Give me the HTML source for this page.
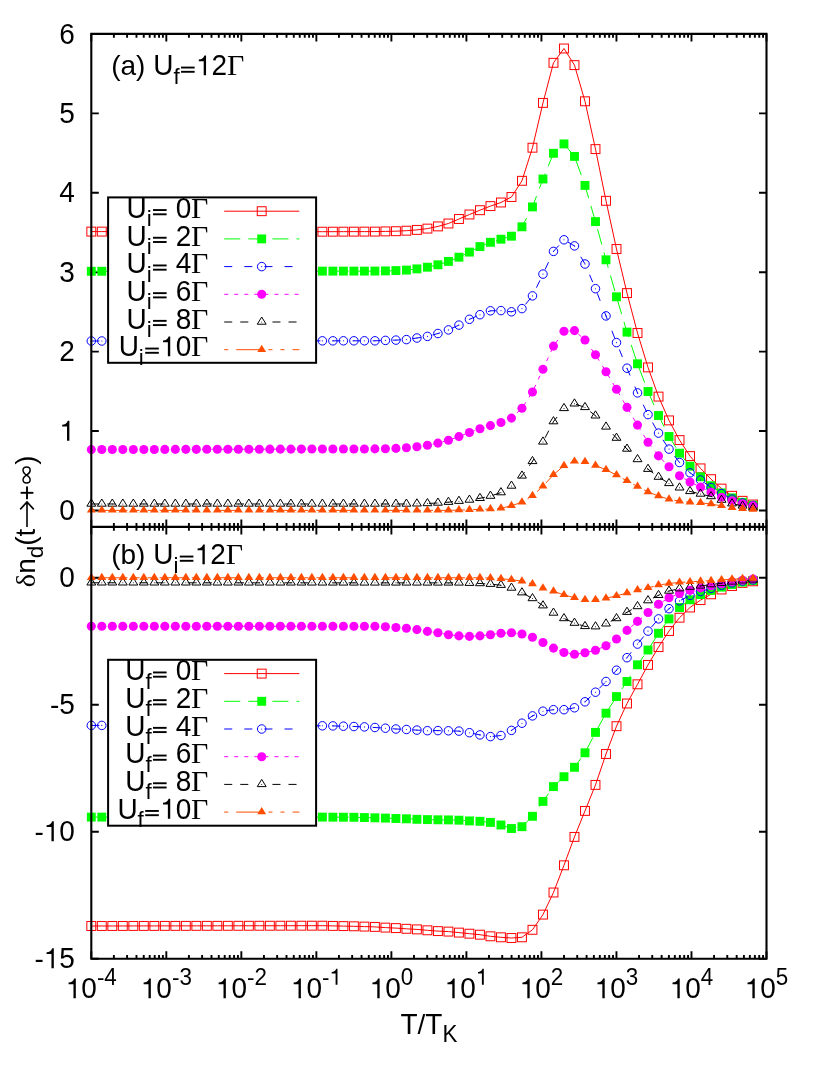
<!DOCTYPE html>
<html><head><meta charset="utf-8"><title>chart</title>
<style>html,body{margin:0;padding:0;background:#fff}svg{display:block;position:absolute;left:0;top:0;will-change:transform}</style>
</head><body>
<svg width="830" height="1075" viewBox="0 0 830 1075">
<defs><clipPath id="ca"><rect x="85.3" y="33.9" width="687.2" height="493"/></clipPath><clipPath id="cb"><rect x="85.3" y="526.9" width="687.2" height="431.8"/></clipPath></defs>
<rect width="830" height="1075" fill="#fff"/>
<path d="M91.3 33.9v7.5M91.3 519.4v15M91.3 958.7v-7.5M113.88 33.9v3.8M113.88 523.1v7.6M113.88 958.7v-3.8M127.09 33.9v3.8M127.09 523.1v7.6M127.09 958.7v-3.8M136.47 33.9v3.8M136.47 523.1v7.6M136.47 958.7v-3.8M143.74 33.9v3.8M143.74 523.1v7.6M143.74 958.7v-3.8M149.68 33.9v3.8M149.68 523.1v7.6M149.68 958.7v-3.8M154.7 33.9v3.8M154.7 523.1v7.6M154.7 958.7v-3.8M159.05 33.9v3.8M159.05 523.1v7.6M159.05 958.7v-3.8M162.89 33.9v3.8M162.89 523.1v7.6M162.89 958.7v-3.8M166.32 33.9v7.5M166.32 519.4v15M166.32 958.7v-7.5M188.91 33.9v3.8M188.91 523.1v7.6M188.91 958.7v-3.8M202.12 33.9v3.8M202.12 523.1v7.6M202.12 958.7v-3.8M211.49 33.9v3.8M211.49 523.1v7.6M211.49 958.7v-3.8M218.76 33.9v3.8M218.76 523.1v7.6M218.76 958.7v-3.8M224.7 33.9v3.8M224.7 523.1v7.6M224.7 958.7v-3.8M229.72 33.9v3.8M229.72 523.1v7.6M229.72 958.7v-3.8M234.07 33.9v3.8M234.07 523.1v7.6M234.07 958.7v-3.8M237.91 33.9v3.8M237.91 523.1v7.6M237.91 958.7v-3.8M241.34 33.9v7.5M241.34 519.4v15M241.34 958.7v-7.5M263.93 33.9v3.8M263.93 523.1v7.6M263.93 958.7v-3.8M277.14 33.9v3.8M277.14 523.1v7.6M277.14 958.7v-3.8M286.51 33.9v3.8M286.51 523.1v7.6M286.51 958.7v-3.8M293.78 33.9v3.8M293.78 523.1v7.6M293.78 958.7v-3.8M299.72 33.9v3.8M299.72 523.1v7.6M299.72 958.7v-3.8M304.75 33.9v3.8M304.75 523.1v7.6M304.75 958.7v-3.8M309.1 33.9v3.8M309.1 523.1v7.6M309.1 958.7v-3.8M312.93 33.9v3.8M312.93 523.1v7.6M312.93 958.7v-3.8M316.37 33.9v7.5M316.37 519.4v15M316.37 958.7v-7.5M338.95 33.9v3.8M338.95 523.1v7.6M338.95 958.7v-3.8M352.16 33.9v3.8M352.16 523.1v7.6M352.16 958.7v-3.8M361.53 33.9v3.8M361.53 523.1v7.6M361.53 958.7v-3.8M368.8 33.9v3.8M368.8 523.1v7.6M368.8 958.7v-3.8M374.75 33.9v3.8M374.75 523.1v7.6M374.75 958.7v-3.8M379.77 33.9v3.8M379.77 523.1v7.6M379.77 958.7v-3.8M384.12 33.9v3.8M384.12 523.1v7.6M384.12 958.7v-3.8M387.96 33.9v3.8M387.96 523.1v7.6M387.96 958.7v-3.8M391.39 33.9v7.5M391.39 519.4v15M391.39 958.7v-7.5M413.97 33.9v3.8M413.97 523.1v7.6M413.97 958.7v-3.8M427.18 33.9v3.8M427.18 523.1v7.6M427.18 958.7v-3.8M436.56 33.9v3.8M436.56 523.1v7.6M436.56 958.7v-3.8M443.83 33.9v3.8M443.83 523.1v7.6M443.83 958.7v-3.8M449.77 33.9v3.8M449.77 523.1v7.6M449.77 958.7v-3.8M454.79 33.9v3.8M454.79 523.1v7.6M454.79 958.7v-3.8M459.14 33.9v3.8M459.14 523.1v7.6M459.14 958.7v-3.8M462.98 33.9v3.8M462.98 523.1v7.6M462.98 958.7v-3.8M466.41 33.9v7.5M466.41 519.4v15M466.41 958.7v-7.5M489 33.9v3.8M489 523.1v7.6M489 958.7v-3.8M502.21 33.9v3.8M502.21 523.1v7.6M502.21 958.7v-3.8M511.58 33.9v3.8M511.58 523.1v7.6M511.58 958.7v-3.8M518.85 33.9v3.8M518.85 523.1v7.6M518.85 958.7v-3.8M524.79 33.9v3.8M524.79 523.1v7.6M524.79 958.7v-3.8M529.81 33.9v3.8M529.81 523.1v7.6M529.81 958.7v-3.8M534.16 33.9v3.8M534.16 523.1v7.6M534.16 958.7v-3.8M538 33.9v3.8M538 523.1v7.6M538 958.7v-3.8M541.43 33.9v7.5M541.43 519.4v15M541.43 958.7v-7.5M564.02 33.9v3.8M564.02 523.1v7.6M564.02 958.7v-3.8M577.23 33.9v3.8M577.23 523.1v7.6M577.23 958.7v-3.8M586.6 33.9v3.8M586.6 523.1v7.6M586.6 958.7v-3.8M593.87 33.9v3.8M593.87 523.1v7.6M593.87 958.7v-3.8M599.81 33.9v3.8M599.81 523.1v7.6M599.81 958.7v-3.8M604.83 33.9v3.8M604.83 523.1v7.6M604.83 958.7v-3.8M609.19 33.9v3.8M609.19 523.1v7.6M609.19 958.7v-3.8M613.02 33.9v3.8M613.02 523.1v7.6M613.02 958.7v-3.8M616.46 33.9v7.5M616.46 519.4v15M616.46 958.7v-7.5M639.04 33.9v3.8M639.04 523.1v7.6M639.04 958.7v-3.8M652.25 33.9v3.8M652.25 523.1v7.6M652.25 958.7v-3.8M661.62 33.9v3.8M661.62 523.1v7.6M661.62 958.7v-3.8M668.89 33.9v3.8M668.89 523.1v7.6M668.89 958.7v-3.8M674.83 33.9v3.8M674.83 523.1v7.6M674.83 958.7v-3.8M679.86 33.9v3.8M679.86 523.1v7.6M679.86 958.7v-3.8M684.21 33.9v3.8M684.21 523.1v7.6M684.21 958.7v-3.8M688.04 33.9v3.8M688.04 523.1v7.6M688.04 958.7v-3.8M691.48 33.9v7.5M691.48 519.4v15M691.48 958.7v-7.5M714.06 33.9v3.8M714.06 523.1v7.6M714.06 958.7v-3.8M727.27 33.9v3.8M727.27 523.1v7.6M727.27 958.7v-3.8M736.65 33.9v3.8M736.65 523.1v7.6M736.65 958.7v-3.8M743.92 33.9v3.8M743.92 523.1v7.6M743.92 958.7v-3.8M749.86 33.9v3.8M749.86 523.1v7.6M749.86 958.7v-3.8M754.88 33.9v3.8M754.88 523.1v7.6M754.88 958.7v-3.8M759.23 33.9v3.8M759.23 523.1v7.6M759.23 958.7v-3.8M763.07 33.9v3.8M763.07 523.1v7.6M763.07 958.7v-3.8M766.5 33.9v7.5M766.5 519.4v15M766.5 958.7v-7.5M91.3 510.45h7.5M766.5 510.45h-7.5M91.3 431.03h7.5M766.5 431.03h-7.5M91.3 351.61h7.5M766.5 351.61h-7.5M91.3 272.19h7.5M766.5 272.19h-7.5M91.3 192.77h7.5M766.5 192.77h-7.5M91.3 113.35h7.5M766.5 113.35h-7.5M91.3 33.93h7.5M766.5 33.93h-7.5M91.3 577.7h7.5M766.5 577.7h-7.5M91.3 704.7h7.5M766.5 704.7h-7.5M91.3 831.7h7.5M766.5 831.7h-7.5M91.3 958.7h7.5M766.5 958.7h-7.5" fill="none" stroke="#000" stroke-width="1.9"/>
<g transform="translate(111.2 75.3)" fill="#000"><text x="0 9.32 24.9 34.22" y="0" font-family="Liberation Sans" font-size="28">(a) </text><text x="42" y="0" font-family="Liberation Sans" font-size="28" transform="scale(1 1.04)">U</text><text x="62.22" y="8.4" font-family="Liberation Sans" font-size="22.4">f</text><rect x="69.84" y="-8.7" width="13.6" height="1.9"/><rect x="69.84" y="-4.45" width="13.6" height="1.9"/><path d="M92.5 0L92.5 -14.14L87.62 -14.14L87.62 -15.85C90.4 -16.16 92.36 -17.08 93.25 -19.85L94.85 -19.85L94.85 0Z"/><text x="100.37" y="0" font-family="Liberation Sans" font-size="28" transform="scale(1 1.04)">2</text><text x="108.15" y="0" font-family="Liberation Serif" font-size="28" transform="scale(1.07 1.04)">Γ</text></g>
<g transform="translate(111.2 564.3)" fill="#000"><text x="0 9.32 24.9 34.22" y="0" font-family="Liberation Sans" font-size="28">(b) </text><text x="42" y="0" font-family="Liberation Sans" font-size="28" transform="scale(1 1.04)">U</text><text x="62.22" y="8.4" font-family="Liberation Sans" font-size="22.4">i</text><rect x="68.6" y="-8.7" width="13.6" height="1.9"/><rect x="68.6" y="-4.45" width="13.6" height="1.9"/><path d="M91.25 0L91.25 -14.14L86.38 -14.14L86.38 -15.85C89.15 -16.16 91.11 -17.08 92 -19.85L93.6 -19.85L93.6 0Z"/><text x="99.12" y="0" font-family="Liberation Sans" font-size="28" transform="scale(1 1.04)">2</text><text x="106.99" y="0" font-family="Liberation Serif" font-size="28" transform="scale(1.07 1.04)">Γ</text></g>
<g clip-path="url(#ca)">
<polyline points="91.3,231.6 101.8,231.6 112.31,231.61 122.81,231.61 133.32,231.62 143.82,231.62 154.32,231.63 164.83,231.63 175.33,231.64 185.84,231.64 196.34,231.65 206.84,231.65 217.35,231.65 227.85,231.66 238.36,231.66 248.86,231.67 259.36,231.67 269.87,231.68 280.37,231.68 290.88,231.69 301.38,231.69 311.88,231.7 322.39,231.7 332.89,231.68 343.4,231.66 353.9,231.64 364.4,231.62 374.91,231.6 385.41,231.4 395.92,231.2 406.42,230.7 416.92,229.9 427.43,228.6 437.93,226.4 448.44,223.5 458.94,219 469.44,214.5 479.95,210.2 490.45,206.1 500.96,202.5 511.46,197 521.96,180.8 532.47,147.7 542.97,102.9 553.48,62.8 563.98,48.5 574.48,65.1 584.99,101.3 595.49,149.1 606,200.8 616.5,249 627,293.1 637.51,333 648.01,367.4 658.52,396.6 669.02,420.4 679.52,440.1 690.03,456.1 700.53,468.4 711.04,479.2 721.54,488.6 732.04,495.8 742.55,500.8 753.05,504.5" fill="none" stroke="#ff0000" stroke-width="1"/>
<rect x="86.85" y="227.15" width="8.9" height="8.9" fill="none" stroke="#ff0000" stroke-width="1"/><rect x="97.35" y="227.15" width="8.9" height="8.9" fill="none" stroke="#ff0000" stroke-width="1"/><rect x="107.86" y="227.16" width="8.9" height="8.9" fill="none" stroke="#ff0000" stroke-width="1"/><rect x="118.36" y="227.16" width="8.9" height="8.9" fill="none" stroke="#ff0000" stroke-width="1"/><rect x="128.87" y="227.17" width="8.9" height="8.9" fill="none" stroke="#ff0000" stroke-width="1"/><rect x="139.37" y="227.17" width="8.9" height="8.9" fill="none" stroke="#ff0000" stroke-width="1"/><rect x="149.87" y="227.18" width="8.9" height="8.9" fill="none" stroke="#ff0000" stroke-width="1"/><rect x="160.38" y="227.18" width="8.9" height="8.9" fill="none" stroke="#ff0000" stroke-width="1"/><rect x="170.88" y="227.19" width="8.9" height="8.9" fill="none" stroke="#ff0000" stroke-width="1"/><rect x="181.39" y="227.19" width="8.9" height="8.9" fill="none" stroke="#ff0000" stroke-width="1"/><rect x="191.89" y="227.2" width="8.9" height="8.9" fill="none" stroke="#ff0000" stroke-width="1"/><rect x="202.39" y="227.2" width="8.9" height="8.9" fill="none" stroke="#ff0000" stroke-width="1"/><rect x="212.9" y="227.2" width="8.9" height="8.9" fill="none" stroke="#ff0000" stroke-width="1"/><rect x="223.4" y="227.21" width="8.9" height="8.9" fill="none" stroke="#ff0000" stroke-width="1"/><rect x="233.91" y="227.21" width="8.9" height="8.9" fill="none" stroke="#ff0000" stroke-width="1"/><rect x="244.41" y="227.22" width="8.9" height="8.9" fill="none" stroke="#ff0000" stroke-width="1"/><rect x="254.91" y="227.22" width="8.9" height="8.9" fill="none" stroke="#ff0000" stroke-width="1"/><rect x="265.42" y="227.23" width="8.9" height="8.9" fill="none" stroke="#ff0000" stroke-width="1"/><rect x="275.92" y="227.23" width="8.9" height="8.9" fill="none" stroke="#ff0000" stroke-width="1"/><rect x="286.43" y="227.24" width="8.9" height="8.9" fill="none" stroke="#ff0000" stroke-width="1"/><rect x="296.93" y="227.24" width="8.9" height="8.9" fill="none" stroke="#ff0000" stroke-width="1"/><rect x="307.43" y="227.25" width="8.9" height="8.9" fill="none" stroke="#ff0000" stroke-width="1"/><rect x="317.94" y="227.25" width="8.9" height="8.9" fill="none" stroke="#ff0000" stroke-width="1"/><rect x="328.44" y="227.23" width="8.9" height="8.9" fill="none" stroke="#ff0000" stroke-width="1"/><rect x="338.95" y="227.21" width="8.9" height="8.9" fill="none" stroke="#ff0000" stroke-width="1"/><rect x="349.45" y="227.19" width="8.9" height="8.9" fill="none" stroke="#ff0000" stroke-width="1"/><rect x="359.95" y="227.17" width="8.9" height="8.9" fill="none" stroke="#ff0000" stroke-width="1"/><rect x="370.46" y="227.15" width="8.9" height="8.9" fill="none" stroke="#ff0000" stroke-width="1"/><rect x="380.96" y="226.95" width="8.9" height="8.9" fill="none" stroke="#ff0000" stroke-width="1"/><rect x="391.47" y="226.75" width="8.9" height="8.9" fill="none" stroke="#ff0000" stroke-width="1"/><rect x="401.97" y="226.25" width="8.9" height="8.9" fill="none" stroke="#ff0000" stroke-width="1"/><rect x="412.47" y="225.45" width="8.9" height="8.9" fill="none" stroke="#ff0000" stroke-width="1"/><rect x="422.98" y="224.15" width="8.9" height="8.9" fill="none" stroke="#ff0000" stroke-width="1"/><rect x="433.48" y="221.95" width="8.9" height="8.9" fill="none" stroke="#ff0000" stroke-width="1"/><rect x="443.99" y="219.05" width="8.9" height="8.9" fill="none" stroke="#ff0000" stroke-width="1"/><rect x="454.49" y="214.55" width="8.9" height="8.9" fill="none" stroke="#ff0000" stroke-width="1"/><rect x="464.99" y="210.05" width="8.9" height="8.9" fill="none" stroke="#ff0000" stroke-width="1"/><rect x="475.5" y="205.75" width="8.9" height="8.9" fill="none" stroke="#ff0000" stroke-width="1"/><rect x="486" y="201.65" width="8.9" height="8.9" fill="none" stroke="#ff0000" stroke-width="1"/><rect x="496.51" y="198.05" width="8.9" height="8.9" fill="none" stroke="#ff0000" stroke-width="1"/><rect x="507.01" y="192.55" width="8.9" height="8.9" fill="none" stroke="#ff0000" stroke-width="1"/><rect x="517.51" y="176.35" width="8.9" height="8.9" fill="none" stroke="#ff0000" stroke-width="1"/><rect x="528.02" y="143.25" width="8.9" height="8.9" fill="none" stroke="#ff0000" stroke-width="1"/><rect x="538.52" y="98.45" width="8.9" height="8.9" fill="none" stroke="#ff0000" stroke-width="1"/><rect x="549.03" y="58.35" width="8.9" height="8.9" fill="none" stroke="#ff0000" stroke-width="1"/><rect x="559.53" y="44.05" width="8.9" height="8.9" fill="none" stroke="#ff0000" stroke-width="1"/><rect x="570.03" y="60.65" width="8.9" height="8.9" fill="none" stroke="#ff0000" stroke-width="1"/><rect x="580.54" y="96.85" width="8.9" height="8.9" fill="none" stroke="#ff0000" stroke-width="1"/><rect x="591.04" y="144.65" width="8.9" height="8.9" fill="none" stroke="#ff0000" stroke-width="1"/><rect x="601.55" y="196.35" width="8.9" height="8.9" fill="none" stroke="#ff0000" stroke-width="1"/><rect x="612.05" y="244.55" width="8.9" height="8.9" fill="none" stroke="#ff0000" stroke-width="1"/><rect x="622.55" y="288.65" width="8.9" height="8.9" fill="none" stroke="#ff0000" stroke-width="1"/><rect x="633.06" y="328.55" width="8.9" height="8.9" fill="none" stroke="#ff0000" stroke-width="1"/><rect x="643.56" y="362.95" width="8.9" height="8.9" fill="none" stroke="#ff0000" stroke-width="1"/><rect x="654.07" y="392.15" width="8.9" height="8.9" fill="none" stroke="#ff0000" stroke-width="1"/><rect x="664.57" y="415.95" width="8.9" height="8.9" fill="none" stroke="#ff0000" stroke-width="1"/><rect x="675.07" y="435.65" width="8.9" height="8.9" fill="none" stroke="#ff0000" stroke-width="1"/><rect x="685.58" y="451.65" width="8.9" height="8.9" fill="none" stroke="#ff0000" stroke-width="1"/><rect x="696.08" y="463.95" width="8.9" height="8.9" fill="none" stroke="#ff0000" stroke-width="1"/><rect x="706.59" y="474.75" width="8.9" height="8.9" fill="none" stroke="#ff0000" stroke-width="1"/><rect x="717.09" y="484.15" width="8.9" height="8.9" fill="none" stroke="#ff0000" stroke-width="1"/><rect x="727.59" y="491.35" width="8.9" height="8.9" fill="none" stroke="#ff0000" stroke-width="1"/><rect x="738.1" y="496.35" width="8.9" height="8.9" fill="none" stroke="#ff0000" stroke-width="1"/><rect x="748.6" y="500.05" width="8.9" height="8.9" fill="none" stroke="#ff0000" stroke-width="1"/>
<polyline points="91.3,271.3 101.8,271.29 112.31,271.29 122.81,271.28 133.32,271.27 143.82,271.26 154.32,271.26 164.83,271.25 175.33,271.24 185.84,271.23 196.34,271.23 206.84,271.22 217.35,271.21 227.85,271.2 238.36,271.2 248.86,271.19 259.36,271.18 269.87,271.17 280.37,271.17 290.88,271.16 301.38,271.15 311.88,271.14 322.39,271.14 332.89,271.13 343.4,271.12 353.9,271.11 364.4,271.11 374.91,271.1 385.41,270.9 395.92,270.6 406.42,270.1 416.92,268.9 427.43,267.2 437.93,264.8 448.44,261.4 458.94,257.2 469.44,252.1 479.95,246.6 490.45,242.3 500.96,239.2 511.46,236.2 521.96,226.8 532.47,206.9 542.97,179 553.48,153.3 563.98,143.9 574.48,156.4 584.99,185.4 595.49,221.6 606,259.8 616.5,296.8 627,332.1 637.51,363.8 648.01,391.5 658.52,415.5 669.02,436.5 679.52,453.2 690.03,466.2 700.53,476.8 711.04,485.7 721.54,492.9 732.04,497.9 742.55,502.3 753.05,505.2" fill="none" stroke="#00ff00" stroke-width="1" stroke-dasharray="16.08 8.04"/>
<rect x="86.85" y="266.85" width="8.9" height="8.9" fill="#00ff00"/><rect x="97.35" y="266.84" width="8.9" height="8.9" fill="#00ff00"/><rect x="107.86" y="266.84" width="8.9" height="8.9" fill="#00ff00"/><rect x="118.36" y="266.83" width="8.9" height="8.9" fill="#00ff00"/><rect x="128.87" y="266.82" width="8.9" height="8.9" fill="#00ff00"/><rect x="139.37" y="266.81" width="8.9" height="8.9" fill="#00ff00"/><rect x="149.87" y="266.81" width="8.9" height="8.9" fill="#00ff00"/><rect x="160.38" y="266.8" width="8.9" height="8.9" fill="#00ff00"/><rect x="170.88" y="266.79" width="8.9" height="8.9" fill="#00ff00"/><rect x="181.39" y="266.78" width="8.9" height="8.9" fill="#00ff00"/><rect x="191.89" y="266.78" width="8.9" height="8.9" fill="#00ff00"/><rect x="202.39" y="266.77" width="8.9" height="8.9" fill="#00ff00"/><rect x="212.9" y="266.76" width="8.9" height="8.9" fill="#00ff00"/><rect x="223.4" y="266.75" width="8.9" height="8.9" fill="#00ff00"/><rect x="233.91" y="266.75" width="8.9" height="8.9" fill="#00ff00"/><rect x="244.41" y="266.74" width="8.9" height="8.9" fill="#00ff00"/><rect x="254.91" y="266.73" width="8.9" height="8.9" fill="#00ff00"/><rect x="265.42" y="266.72" width="8.9" height="8.9" fill="#00ff00"/><rect x="275.92" y="266.72" width="8.9" height="8.9" fill="#00ff00"/><rect x="286.43" y="266.71" width="8.9" height="8.9" fill="#00ff00"/><rect x="296.93" y="266.7" width="8.9" height="8.9" fill="#00ff00"/><rect x="307.43" y="266.69" width="8.9" height="8.9" fill="#00ff00"/><rect x="317.94" y="266.69" width="8.9" height="8.9" fill="#00ff00"/><rect x="328.44" y="266.68" width="8.9" height="8.9" fill="#00ff00"/><rect x="338.95" y="266.67" width="8.9" height="8.9" fill="#00ff00"/><rect x="349.45" y="266.66" width="8.9" height="8.9" fill="#00ff00"/><rect x="359.95" y="266.66" width="8.9" height="8.9" fill="#00ff00"/><rect x="370.46" y="266.65" width="8.9" height="8.9" fill="#00ff00"/><rect x="380.96" y="266.45" width="8.9" height="8.9" fill="#00ff00"/><rect x="391.47" y="266.15" width="8.9" height="8.9" fill="#00ff00"/><rect x="401.97" y="265.65" width="8.9" height="8.9" fill="#00ff00"/><rect x="412.47" y="264.45" width="8.9" height="8.9" fill="#00ff00"/><rect x="422.98" y="262.75" width="8.9" height="8.9" fill="#00ff00"/><rect x="433.48" y="260.35" width="8.9" height="8.9" fill="#00ff00"/><rect x="443.99" y="256.95" width="8.9" height="8.9" fill="#00ff00"/><rect x="454.49" y="252.75" width="8.9" height="8.9" fill="#00ff00"/><rect x="464.99" y="247.65" width="8.9" height="8.9" fill="#00ff00"/><rect x="475.5" y="242.15" width="8.9" height="8.9" fill="#00ff00"/><rect x="486" y="237.85" width="8.9" height="8.9" fill="#00ff00"/><rect x="496.51" y="234.75" width="8.9" height="8.9" fill="#00ff00"/><rect x="507.01" y="231.75" width="8.9" height="8.9" fill="#00ff00"/><rect x="517.51" y="222.35" width="8.9" height="8.9" fill="#00ff00"/><rect x="528.02" y="202.45" width="8.9" height="8.9" fill="#00ff00"/><rect x="538.52" y="174.55" width="8.9" height="8.9" fill="#00ff00"/><rect x="549.03" y="148.85" width="8.9" height="8.9" fill="#00ff00"/><rect x="559.53" y="139.45" width="8.9" height="8.9" fill="#00ff00"/><rect x="570.03" y="151.95" width="8.9" height="8.9" fill="#00ff00"/><rect x="580.54" y="180.95" width="8.9" height="8.9" fill="#00ff00"/><rect x="591.04" y="217.15" width="8.9" height="8.9" fill="#00ff00"/><rect x="601.55" y="255.35" width="8.9" height="8.9" fill="#00ff00"/><rect x="612.05" y="292.35" width="8.9" height="8.9" fill="#00ff00"/><rect x="622.55" y="327.65" width="8.9" height="8.9" fill="#00ff00"/><rect x="633.06" y="359.35" width="8.9" height="8.9" fill="#00ff00"/><rect x="643.56" y="387.05" width="8.9" height="8.9" fill="#00ff00"/><rect x="654.07" y="411.05" width="8.9" height="8.9" fill="#00ff00"/><rect x="664.57" y="432.05" width="8.9" height="8.9" fill="#00ff00"/><rect x="675.07" y="448.75" width="8.9" height="8.9" fill="#00ff00"/><rect x="685.58" y="461.75" width="8.9" height="8.9" fill="#00ff00"/><rect x="696.08" y="472.35" width="8.9" height="8.9" fill="#00ff00"/><rect x="706.59" y="481.25" width="8.9" height="8.9" fill="#00ff00"/><rect x="717.09" y="488.45" width="8.9" height="8.9" fill="#00ff00"/><rect x="727.59" y="493.45" width="8.9" height="8.9" fill="#00ff00"/><rect x="738.1" y="497.85" width="8.9" height="8.9" fill="#00ff00"/><rect x="748.6" y="500.75" width="8.9" height="8.9" fill="#00ff00"/>
<polyline points="91.3,341 101.8,340.99 112.31,340.99 122.81,340.98 133.32,340.97 143.82,340.96 154.32,340.96 164.83,340.95 175.33,340.94 185.84,340.93 196.34,340.93 206.84,340.92 217.35,340.91 227.85,340.9 238.36,340.9 248.86,340.89 259.36,340.88 269.87,340.87 280.37,340.87 290.88,340.86 301.38,340.85 311.88,340.84 322.39,340.84 332.89,340.83 343.4,340.82 353.9,340.81 364.4,340.81 374.91,340.8 385.41,340.4 395.92,340.1 406.42,339.6 416.92,338 427.43,336.4 437.93,333.5 448.44,329.9 458.94,325.1 469.44,319.3 479.95,314.7 490.45,310.8 500.96,310.6 511.46,311.8 521.96,308.6 532.47,295.9 542.97,274.1 553.48,251.4 563.98,239.8 574.48,245.9 584.99,264 595.49,288.7 606,315.9 616.5,342.6 627,368.2 637.51,392.9 648.01,414.6 658.52,433.1 669.02,449.1 679.52,462.5 690.03,472.8 700.53,480 711.04,487.5 721.54,493.6 732.04,499.1 742.55,503 753.05,505.5" fill="none" stroke="#0000ff" stroke-width="1" stroke-dasharray="8.04 12.06"/>
<circle cx="91.3" cy="341" r="4.25" fill="none" stroke="#0000ff" stroke-width="1"/><circle cx="91.3" cy="341" r="0.55" fill="#0000ff"/><circle cx="101.8" cy="340.99" r="4.25" fill="none" stroke="#0000ff" stroke-width="1"/><circle cx="101.8" cy="340.99" r="0.55" fill="#0000ff"/><circle cx="112.31" cy="340.99" r="4.25" fill="none" stroke="#0000ff" stroke-width="1"/><circle cx="112.31" cy="340.99" r="0.55" fill="#0000ff"/><circle cx="122.81" cy="340.98" r="4.25" fill="none" stroke="#0000ff" stroke-width="1"/><circle cx="122.81" cy="340.98" r="0.55" fill="#0000ff"/><circle cx="133.32" cy="340.97" r="4.25" fill="none" stroke="#0000ff" stroke-width="1"/><circle cx="133.32" cy="340.97" r="0.55" fill="#0000ff"/><circle cx="143.82" cy="340.96" r="4.25" fill="none" stroke="#0000ff" stroke-width="1"/><circle cx="143.82" cy="340.96" r="0.55" fill="#0000ff"/><circle cx="154.32" cy="340.96" r="4.25" fill="none" stroke="#0000ff" stroke-width="1"/><circle cx="154.32" cy="340.96" r="0.55" fill="#0000ff"/><circle cx="164.83" cy="340.95" r="4.25" fill="none" stroke="#0000ff" stroke-width="1"/><circle cx="164.83" cy="340.95" r="0.55" fill="#0000ff"/><circle cx="175.33" cy="340.94" r="4.25" fill="none" stroke="#0000ff" stroke-width="1"/><circle cx="175.33" cy="340.94" r="0.55" fill="#0000ff"/><circle cx="185.84" cy="340.93" r="4.25" fill="none" stroke="#0000ff" stroke-width="1"/><circle cx="185.84" cy="340.93" r="0.55" fill="#0000ff"/><circle cx="196.34" cy="340.93" r="4.25" fill="none" stroke="#0000ff" stroke-width="1"/><circle cx="196.34" cy="340.93" r="0.55" fill="#0000ff"/><circle cx="206.84" cy="340.92" r="4.25" fill="none" stroke="#0000ff" stroke-width="1"/><circle cx="206.84" cy="340.92" r="0.55" fill="#0000ff"/><circle cx="217.35" cy="340.91" r="4.25" fill="none" stroke="#0000ff" stroke-width="1"/><circle cx="217.35" cy="340.91" r="0.55" fill="#0000ff"/><circle cx="227.85" cy="340.9" r="4.25" fill="none" stroke="#0000ff" stroke-width="1"/><circle cx="227.85" cy="340.9" r="0.55" fill="#0000ff"/><circle cx="238.36" cy="340.9" r="4.25" fill="none" stroke="#0000ff" stroke-width="1"/><circle cx="238.36" cy="340.9" r="0.55" fill="#0000ff"/><circle cx="248.86" cy="340.89" r="4.25" fill="none" stroke="#0000ff" stroke-width="1"/><circle cx="248.86" cy="340.89" r="0.55" fill="#0000ff"/><circle cx="259.36" cy="340.88" r="4.25" fill="none" stroke="#0000ff" stroke-width="1"/><circle cx="259.36" cy="340.88" r="0.55" fill="#0000ff"/><circle cx="269.87" cy="340.87" r="4.25" fill="none" stroke="#0000ff" stroke-width="1"/><circle cx="269.87" cy="340.87" r="0.55" fill="#0000ff"/><circle cx="280.37" cy="340.87" r="4.25" fill="none" stroke="#0000ff" stroke-width="1"/><circle cx="280.37" cy="340.87" r="0.55" fill="#0000ff"/><circle cx="290.88" cy="340.86" r="4.25" fill="none" stroke="#0000ff" stroke-width="1"/><circle cx="290.88" cy="340.86" r="0.55" fill="#0000ff"/><circle cx="301.38" cy="340.85" r="4.25" fill="none" stroke="#0000ff" stroke-width="1"/><circle cx="301.38" cy="340.85" r="0.55" fill="#0000ff"/><circle cx="311.88" cy="340.84" r="4.25" fill="none" stroke="#0000ff" stroke-width="1"/><circle cx="311.88" cy="340.84" r="0.55" fill="#0000ff"/><circle cx="322.39" cy="340.84" r="4.25" fill="none" stroke="#0000ff" stroke-width="1"/><circle cx="322.39" cy="340.84" r="0.55" fill="#0000ff"/><circle cx="332.89" cy="340.83" r="4.25" fill="none" stroke="#0000ff" stroke-width="1"/><circle cx="332.89" cy="340.83" r="0.55" fill="#0000ff"/><circle cx="343.4" cy="340.82" r="4.25" fill="none" stroke="#0000ff" stroke-width="1"/><circle cx="343.4" cy="340.82" r="0.55" fill="#0000ff"/><circle cx="353.9" cy="340.81" r="4.25" fill="none" stroke="#0000ff" stroke-width="1"/><circle cx="353.9" cy="340.81" r="0.55" fill="#0000ff"/><circle cx="364.4" cy="340.81" r="4.25" fill="none" stroke="#0000ff" stroke-width="1"/><circle cx="364.4" cy="340.81" r="0.55" fill="#0000ff"/><circle cx="374.91" cy="340.8" r="4.25" fill="none" stroke="#0000ff" stroke-width="1"/><circle cx="374.91" cy="340.8" r="0.55" fill="#0000ff"/><circle cx="385.41" cy="340.4" r="4.25" fill="none" stroke="#0000ff" stroke-width="1"/><circle cx="385.41" cy="340.4" r="0.55" fill="#0000ff"/><circle cx="395.92" cy="340.1" r="4.25" fill="none" stroke="#0000ff" stroke-width="1"/><circle cx="395.92" cy="340.1" r="0.55" fill="#0000ff"/><circle cx="406.42" cy="339.6" r="4.25" fill="none" stroke="#0000ff" stroke-width="1"/><circle cx="406.42" cy="339.6" r="0.55" fill="#0000ff"/><circle cx="416.92" cy="338" r="4.25" fill="none" stroke="#0000ff" stroke-width="1"/><circle cx="416.92" cy="338" r="0.55" fill="#0000ff"/><circle cx="427.43" cy="336.4" r="4.25" fill="none" stroke="#0000ff" stroke-width="1"/><circle cx="427.43" cy="336.4" r="0.55" fill="#0000ff"/><circle cx="437.93" cy="333.5" r="4.25" fill="none" stroke="#0000ff" stroke-width="1"/><circle cx="437.93" cy="333.5" r="0.55" fill="#0000ff"/><circle cx="448.44" cy="329.9" r="4.25" fill="none" stroke="#0000ff" stroke-width="1"/><circle cx="448.44" cy="329.9" r="0.55" fill="#0000ff"/><circle cx="458.94" cy="325.1" r="4.25" fill="none" stroke="#0000ff" stroke-width="1"/><circle cx="458.94" cy="325.1" r="0.55" fill="#0000ff"/><circle cx="469.44" cy="319.3" r="4.25" fill="none" stroke="#0000ff" stroke-width="1"/><circle cx="469.44" cy="319.3" r="0.55" fill="#0000ff"/><circle cx="479.95" cy="314.7" r="4.25" fill="none" stroke="#0000ff" stroke-width="1"/><circle cx="479.95" cy="314.7" r="0.55" fill="#0000ff"/><circle cx="490.45" cy="310.8" r="4.25" fill="none" stroke="#0000ff" stroke-width="1"/><circle cx="490.45" cy="310.8" r="0.55" fill="#0000ff"/><circle cx="500.96" cy="310.6" r="4.25" fill="none" stroke="#0000ff" stroke-width="1"/><circle cx="500.96" cy="310.6" r="0.55" fill="#0000ff"/><circle cx="511.46" cy="311.8" r="4.25" fill="none" stroke="#0000ff" stroke-width="1"/><circle cx="511.46" cy="311.8" r="0.55" fill="#0000ff"/><circle cx="521.96" cy="308.6" r="4.25" fill="none" stroke="#0000ff" stroke-width="1"/><circle cx="521.96" cy="308.6" r="0.55" fill="#0000ff"/><circle cx="532.47" cy="295.9" r="4.25" fill="none" stroke="#0000ff" stroke-width="1"/><circle cx="532.47" cy="295.9" r="0.55" fill="#0000ff"/><circle cx="542.97" cy="274.1" r="4.25" fill="none" stroke="#0000ff" stroke-width="1"/><circle cx="542.97" cy="274.1" r="0.55" fill="#0000ff"/><circle cx="553.48" cy="251.4" r="4.25" fill="none" stroke="#0000ff" stroke-width="1"/><circle cx="553.48" cy="251.4" r="0.55" fill="#0000ff"/><circle cx="563.98" cy="239.8" r="4.25" fill="none" stroke="#0000ff" stroke-width="1"/><circle cx="563.98" cy="239.8" r="0.55" fill="#0000ff"/><circle cx="574.48" cy="245.9" r="4.25" fill="none" stroke="#0000ff" stroke-width="1"/><circle cx="574.48" cy="245.9" r="0.55" fill="#0000ff"/><circle cx="584.99" cy="264" r="4.25" fill="none" stroke="#0000ff" stroke-width="1"/><circle cx="584.99" cy="264" r="0.55" fill="#0000ff"/><circle cx="595.49" cy="288.7" r="4.25" fill="none" stroke="#0000ff" stroke-width="1"/><circle cx="595.49" cy="288.7" r="0.55" fill="#0000ff"/><circle cx="606" cy="315.9" r="4.25" fill="none" stroke="#0000ff" stroke-width="1"/><circle cx="606" cy="315.9" r="0.55" fill="#0000ff"/><circle cx="616.5" cy="342.6" r="4.25" fill="none" stroke="#0000ff" stroke-width="1"/><circle cx="616.5" cy="342.6" r="0.55" fill="#0000ff"/><circle cx="627" cy="368.2" r="4.25" fill="none" stroke="#0000ff" stroke-width="1"/><circle cx="627" cy="368.2" r="0.55" fill="#0000ff"/><circle cx="637.51" cy="392.9" r="4.25" fill="none" stroke="#0000ff" stroke-width="1"/><circle cx="637.51" cy="392.9" r="0.55" fill="#0000ff"/><circle cx="648.01" cy="414.6" r="4.25" fill="none" stroke="#0000ff" stroke-width="1"/><circle cx="648.01" cy="414.6" r="0.55" fill="#0000ff"/><circle cx="658.52" cy="433.1" r="4.25" fill="none" stroke="#0000ff" stroke-width="1"/><circle cx="658.52" cy="433.1" r="0.55" fill="#0000ff"/><circle cx="669.02" cy="449.1" r="4.25" fill="none" stroke="#0000ff" stroke-width="1"/><circle cx="669.02" cy="449.1" r="0.55" fill="#0000ff"/><circle cx="679.52" cy="462.5" r="4.25" fill="none" stroke="#0000ff" stroke-width="1"/><circle cx="679.52" cy="462.5" r="0.55" fill="#0000ff"/><circle cx="690.03" cy="472.8" r="4.25" fill="none" stroke="#0000ff" stroke-width="1"/><circle cx="690.03" cy="472.8" r="0.55" fill="#0000ff"/><circle cx="700.53" cy="480" r="4.25" fill="none" stroke="#0000ff" stroke-width="1"/><circle cx="700.53" cy="480" r="0.55" fill="#0000ff"/><circle cx="711.04" cy="487.5" r="4.25" fill="none" stroke="#0000ff" stroke-width="1"/><circle cx="711.04" cy="487.5" r="0.55" fill="#0000ff"/><circle cx="721.54" cy="493.6" r="4.25" fill="none" stroke="#0000ff" stroke-width="1"/><circle cx="721.54" cy="493.6" r="0.55" fill="#0000ff"/><circle cx="732.04" cy="499.1" r="4.25" fill="none" stroke="#0000ff" stroke-width="1"/><circle cx="732.04" cy="499.1" r="0.55" fill="#0000ff"/><circle cx="742.55" cy="503" r="4.25" fill="none" stroke="#0000ff" stroke-width="1"/><circle cx="742.55" cy="503" r="0.55" fill="#0000ff"/><circle cx="753.05" cy="505.5" r="4.25" fill="none" stroke="#0000ff" stroke-width="1"/><circle cx="753.05" cy="505.5" r="0.55" fill="#0000ff"/>
<polyline points="91.3,449.6 101.8,449.57 112.31,449.55 122.81,449.52 133.32,449.5 143.82,449.47 154.32,449.44 164.83,449.42 175.33,449.39 185.84,449.37 196.34,449.34 206.84,449.31 217.35,449.29 227.85,449.26 238.36,449.24 248.86,449.21 259.36,449.19 269.87,449.16 280.37,449.13 290.88,449.11 301.38,449.08 311.88,449.06 322.39,449.03 332.89,449 343.4,448.98 353.9,448.95 364.4,448.93 374.91,448.9 385.41,448.7 395.92,448.4 406.42,447.7 416.92,446.7 427.43,445.3 437.93,443.1 448.44,440.2 458.94,436.6 469.44,432.5 479.95,428.7 490.45,425.6 500.96,422.5 511.46,418.1 521.96,408.2 532.47,392 542.97,369.2 553.48,346.1 563.98,331.3 574.48,330.6 584.99,340 595.49,354.7 606,371.7 616.5,389.3 627,407.4 637.51,425.1 648.01,442.3 658.52,455.9 669.02,466.8 679.52,475.7 690.03,482 700.53,487.1 711.04,492.2 721.54,497.2 732.04,500.8 742.55,503.7 753.05,505.9" fill="none" stroke="#ff00ff" stroke-width="1" stroke-dasharray="4.02 6.03"/>
<circle cx="91.3" cy="449.6" r="4.55" fill="#ff00ff"/><circle cx="101.8" cy="449.57" r="4.55" fill="#ff00ff"/><circle cx="112.31" cy="449.55" r="4.55" fill="#ff00ff"/><circle cx="122.81" cy="449.52" r="4.55" fill="#ff00ff"/><circle cx="133.32" cy="449.5" r="4.55" fill="#ff00ff"/><circle cx="143.82" cy="449.47" r="4.55" fill="#ff00ff"/><circle cx="154.32" cy="449.44" r="4.55" fill="#ff00ff"/><circle cx="164.83" cy="449.42" r="4.55" fill="#ff00ff"/><circle cx="175.33" cy="449.39" r="4.55" fill="#ff00ff"/><circle cx="185.84" cy="449.37" r="4.55" fill="#ff00ff"/><circle cx="196.34" cy="449.34" r="4.55" fill="#ff00ff"/><circle cx="206.84" cy="449.31" r="4.55" fill="#ff00ff"/><circle cx="217.35" cy="449.29" r="4.55" fill="#ff00ff"/><circle cx="227.85" cy="449.26" r="4.55" fill="#ff00ff"/><circle cx="238.36" cy="449.24" r="4.55" fill="#ff00ff"/><circle cx="248.86" cy="449.21" r="4.55" fill="#ff00ff"/><circle cx="259.36" cy="449.19" r="4.55" fill="#ff00ff"/><circle cx="269.87" cy="449.16" r="4.55" fill="#ff00ff"/><circle cx="280.37" cy="449.13" r="4.55" fill="#ff00ff"/><circle cx="290.88" cy="449.11" r="4.55" fill="#ff00ff"/><circle cx="301.38" cy="449.08" r="4.55" fill="#ff00ff"/><circle cx="311.88" cy="449.06" r="4.55" fill="#ff00ff"/><circle cx="322.39" cy="449.03" r="4.55" fill="#ff00ff"/><circle cx="332.89" cy="449" r="4.55" fill="#ff00ff"/><circle cx="343.4" cy="448.98" r="4.55" fill="#ff00ff"/><circle cx="353.9" cy="448.95" r="4.55" fill="#ff00ff"/><circle cx="364.4" cy="448.93" r="4.55" fill="#ff00ff"/><circle cx="374.91" cy="448.9" r="4.55" fill="#ff00ff"/><circle cx="385.41" cy="448.7" r="4.55" fill="#ff00ff"/><circle cx="395.92" cy="448.4" r="4.55" fill="#ff00ff"/><circle cx="406.42" cy="447.7" r="4.55" fill="#ff00ff"/><circle cx="416.92" cy="446.7" r="4.55" fill="#ff00ff"/><circle cx="427.43" cy="445.3" r="4.55" fill="#ff00ff"/><circle cx="437.93" cy="443.1" r="4.55" fill="#ff00ff"/><circle cx="448.44" cy="440.2" r="4.55" fill="#ff00ff"/><circle cx="458.94" cy="436.6" r="4.55" fill="#ff00ff"/><circle cx="469.44" cy="432.5" r="4.55" fill="#ff00ff"/><circle cx="479.95" cy="428.7" r="4.55" fill="#ff00ff"/><circle cx="490.45" cy="425.6" r="4.55" fill="#ff00ff"/><circle cx="500.96" cy="422.5" r="4.55" fill="#ff00ff"/><circle cx="511.46" cy="418.1" r="4.55" fill="#ff00ff"/><circle cx="521.96" cy="408.2" r="4.55" fill="#ff00ff"/><circle cx="532.47" cy="392" r="4.55" fill="#ff00ff"/><circle cx="542.97" cy="369.2" r="4.55" fill="#ff00ff"/><circle cx="553.48" cy="346.1" r="4.55" fill="#ff00ff"/><circle cx="563.98" cy="331.3" r="4.55" fill="#ff00ff"/><circle cx="574.48" cy="330.6" r="4.55" fill="#ff00ff"/><circle cx="584.99" cy="340" r="4.55" fill="#ff00ff"/><circle cx="595.49" cy="354.7" r="4.55" fill="#ff00ff"/><circle cx="606" cy="371.7" r="4.55" fill="#ff00ff"/><circle cx="616.5" cy="389.3" r="4.55" fill="#ff00ff"/><circle cx="627" cy="407.4" r="4.55" fill="#ff00ff"/><circle cx="637.51" cy="425.1" r="4.55" fill="#ff00ff"/><circle cx="648.01" cy="442.3" r="4.55" fill="#ff00ff"/><circle cx="658.52" cy="455.9" r="4.55" fill="#ff00ff"/><circle cx="669.02" cy="466.8" r="4.55" fill="#ff00ff"/><circle cx="679.52" cy="475.7" r="4.55" fill="#ff00ff"/><circle cx="690.03" cy="482" r="4.55" fill="#ff00ff"/><circle cx="700.53" cy="487.1" r="4.55" fill="#ff00ff"/><circle cx="711.04" cy="492.2" r="4.55" fill="#ff00ff"/><circle cx="721.54" cy="497.2" r="4.55" fill="#ff00ff"/><circle cx="732.04" cy="500.8" r="4.55" fill="#ff00ff"/><circle cx="742.55" cy="503.7" r="4.55" fill="#ff00ff"/><circle cx="753.05" cy="505.9" r="4.55" fill="#ff00ff"/>
<polyline points="91.3,503.98 101.8,503.98 112.31,503.98 122.81,503.98 133.32,503.98 143.82,503.98 154.32,503.98 164.83,503.98 175.33,503.98 185.84,503.98 196.34,503.98 206.84,503.98 217.35,503.98 227.85,503.98 238.36,503.98 248.86,503.98 259.36,503.98 269.87,503.98 280.37,503.98 290.88,503.98 301.38,503.98 311.88,503.98 322.39,503.98 332.89,503.98 343.4,503.98 353.9,503.98 364.4,503.98 374.91,503.98 385.41,503.98 395.92,503.98 406.42,503.98 416.92,503.78 427.43,503.48 437.93,502.98 448.44,502.18 458.94,501.18 469.44,499.98 479.95,498.28 490.45,496.08 500.96,492.58 511.46,485.98 521.96,475.88 532.47,461.38 542.97,441.88 553.48,421.58 563.98,408.38 574.48,403.78 584.99,407.38 595.49,415.78 606,426.88 616.5,438.08 627,448.98 637.51,459.48 648.01,469.18 658.52,477.08 669.02,483.38 679.52,487.78 690.03,491.38 700.53,493.98 711.04,496.48 721.54,500.08 732.04,503.68 742.55,505.88 753.05,507.98" fill="none" stroke="#000000" stroke-width="1" stroke-dasharray="8.04 8.04 8.04 24.12"/>
<polygon points="91.3,499 86.85,506.2 95.75,506.2" fill="none" stroke="#000000" stroke-width="1" stroke-linejoin="miter"/><circle cx="91.3" cy="503.98" r="0.5" fill="#000000"/><polygon points="101.8,499 97.35,506.2 106.25,506.2" fill="none" stroke="#000000" stroke-width="1" stroke-linejoin="miter"/><circle cx="101.8" cy="503.98" r="0.5" fill="#000000"/><polygon points="112.31,499 107.86,506.2 116.76,506.2" fill="none" stroke="#000000" stroke-width="1" stroke-linejoin="miter"/><circle cx="112.31" cy="503.98" r="0.5" fill="#000000"/><polygon points="122.81,499 118.36,506.2 127.26,506.2" fill="none" stroke="#000000" stroke-width="1" stroke-linejoin="miter"/><circle cx="122.81" cy="503.98" r="0.5" fill="#000000"/><polygon points="133.32,499 128.87,506.2 137.77,506.2" fill="none" stroke="#000000" stroke-width="1" stroke-linejoin="miter"/><circle cx="133.32" cy="503.98" r="0.5" fill="#000000"/><polygon points="143.82,499 139.37,506.2 148.27,506.2" fill="none" stroke="#000000" stroke-width="1" stroke-linejoin="miter"/><circle cx="143.82" cy="503.98" r="0.5" fill="#000000"/><polygon points="154.32,499 149.87,506.2 158.77,506.2" fill="none" stroke="#000000" stroke-width="1" stroke-linejoin="miter"/><circle cx="154.32" cy="503.98" r="0.5" fill="#000000"/><polygon points="164.83,499 160.38,506.2 169.28,506.2" fill="none" stroke="#000000" stroke-width="1" stroke-linejoin="miter"/><circle cx="164.83" cy="503.98" r="0.5" fill="#000000"/><polygon points="175.33,499 170.88,506.2 179.78,506.2" fill="none" stroke="#000000" stroke-width="1" stroke-linejoin="miter"/><circle cx="175.33" cy="503.98" r="0.5" fill="#000000"/><polygon points="185.84,499 181.39,506.2 190.29,506.2" fill="none" stroke="#000000" stroke-width="1" stroke-linejoin="miter"/><circle cx="185.84" cy="503.98" r="0.5" fill="#000000"/><polygon points="196.34,499 191.89,506.2 200.79,506.2" fill="none" stroke="#000000" stroke-width="1" stroke-linejoin="miter"/><circle cx="196.34" cy="503.98" r="0.5" fill="#000000"/><polygon points="206.84,499 202.39,506.2 211.29,506.2" fill="none" stroke="#000000" stroke-width="1" stroke-linejoin="miter"/><circle cx="206.84" cy="503.98" r="0.5" fill="#000000"/><polygon points="217.35,499 212.9,506.2 221.8,506.2" fill="none" stroke="#000000" stroke-width="1" stroke-linejoin="miter"/><circle cx="217.35" cy="503.98" r="0.5" fill="#000000"/><polygon points="227.85,499 223.4,506.2 232.3,506.2" fill="none" stroke="#000000" stroke-width="1" stroke-linejoin="miter"/><circle cx="227.85" cy="503.98" r="0.5" fill="#000000"/><polygon points="238.36,499 233.91,506.2 242.81,506.2" fill="none" stroke="#000000" stroke-width="1" stroke-linejoin="miter"/><circle cx="238.36" cy="503.98" r="0.5" fill="#000000"/><polygon points="248.86,499 244.41,506.2 253.31,506.2" fill="none" stroke="#000000" stroke-width="1" stroke-linejoin="miter"/><circle cx="248.86" cy="503.98" r="0.5" fill="#000000"/><polygon points="259.36,499 254.91,506.2 263.81,506.2" fill="none" stroke="#000000" stroke-width="1" stroke-linejoin="miter"/><circle cx="259.36" cy="503.98" r="0.5" fill="#000000"/><polygon points="269.87,499 265.42,506.2 274.32,506.2" fill="none" stroke="#000000" stroke-width="1" stroke-linejoin="miter"/><circle cx="269.87" cy="503.98" r="0.5" fill="#000000"/><polygon points="280.37,499 275.92,506.2 284.82,506.2" fill="none" stroke="#000000" stroke-width="1" stroke-linejoin="miter"/><circle cx="280.37" cy="503.98" r="0.5" fill="#000000"/><polygon points="290.88,499 286.43,506.2 295.33,506.2" fill="none" stroke="#000000" stroke-width="1" stroke-linejoin="miter"/><circle cx="290.88" cy="503.98" r="0.5" fill="#000000"/><polygon points="301.38,499 296.93,506.2 305.83,506.2" fill="none" stroke="#000000" stroke-width="1" stroke-linejoin="miter"/><circle cx="301.38" cy="503.98" r="0.5" fill="#000000"/><polygon points="311.88,499 307.43,506.2 316.33,506.2" fill="none" stroke="#000000" stroke-width="1" stroke-linejoin="miter"/><circle cx="311.88" cy="503.98" r="0.5" fill="#000000"/><polygon points="322.39,499 317.94,506.2 326.84,506.2" fill="none" stroke="#000000" stroke-width="1" stroke-linejoin="miter"/><circle cx="322.39" cy="503.98" r="0.5" fill="#000000"/><polygon points="332.89,499 328.44,506.2 337.34,506.2" fill="none" stroke="#000000" stroke-width="1" stroke-linejoin="miter"/><circle cx="332.89" cy="503.98" r="0.5" fill="#000000"/><polygon points="343.4,499 338.95,506.2 347.85,506.2" fill="none" stroke="#000000" stroke-width="1" stroke-linejoin="miter"/><circle cx="343.4" cy="503.98" r="0.5" fill="#000000"/><polygon points="353.9,499 349.45,506.2 358.35,506.2" fill="none" stroke="#000000" stroke-width="1" stroke-linejoin="miter"/><circle cx="353.9" cy="503.98" r="0.5" fill="#000000"/><polygon points="364.4,499 359.95,506.2 368.85,506.2" fill="none" stroke="#000000" stroke-width="1" stroke-linejoin="miter"/><circle cx="364.4" cy="503.98" r="0.5" fill="#000000"/><polygon points="374.91,499 370.46,506.2 379.36,506.2" fill="none" stroke="#000000" stroke-width="1" stroke-linejoin="miter"/><circle cx="374.91" cy="503.98" r="0.5" fill="#000000"/><polygon points="385.41,499 380.96,506.2 389.86,506.2" fill="none" stroke="#000000" stroke-width="1" stroke-linejoin="miter"/><circle cx="385.41" cy="503.98" r="0.5" fill="#000000"/><polygon points="395.92,499 391.47,506.2 400.37,506.2" fill="none" stroke="#000000" stroke-width="1" stroke-linejoin="miter"/><circle cx="395.92" cy="503.98" r="0.5" fill="#000000"/><polygon points="406.42,499 401.97,506.2 410.87,506.2" fill="none" stroke="#000000" stroke-width="1" stroke-linejoin="miter"/><circle cx="406.42" cy="503.98" r="0.5" fill="#000000"/><polygon points="416.92,498.8 412.47,506 421.37,506" fill="none" stroke="#000000" stroke-width="1" stroke-linejoin="miter"/><circle cx="416.92" cy="503.78" r="0.5" fill="#000000"/><polygon points="427.43,498.5 422.98,505.7 431.88,505.7" fill="none" stroke="#000000" stroke-width="1" stroke-linejoin="miter"/><circle cx="427.43" cy="503.48" r="0.5" fill="#000000"/><polygon points="437.93,498 433.48,505.2 442.38,505.2" fill="none" stroke="#000000" stroke-width="1" stroke-linejoin="miter"/><circle cx="437.93" cy="502.98" r="0.5" fill="#000000"/><polygon points="448.44,497.2 443.99,504.4 452.89,504.4" fill="none" stroke="#000000" stroke-width="1" stroke-linejoin="miter"/><circle cx="448.44" cy="502.18" r="0.5" fill="#000000"/><polygon points="458.94,496.2 454.49,503.4 463.39,503.4" fill="none" stroke="#000000" stroke-width="1" stroke-linejoin="miter"/><circle cx="458.94" cy="501.18" r="0.5" fill="#000000"/><polygon points="469.44,495 464.99,502.2 473.89,502.2" fill="none" stroke="#000000" stroke-width="1" stroke-linejoin="miter"/><circle cx="469.44" cy="499.98" r="0.5" fill="#000000"/><polygon points="479.95,493.3 475.5,500.5 484.4,500.5" fill="none" stroke="#000000" stroke-width="1" stroke-linejoin="miter"/><circle cx="479.95" cy="498.28" r="0.5" fill="#000000"/><polygon points="490.45,491.1 486,498.3 494.9,498.3" fill="none" stroke="#000000" stroke-width="1" stroke-linejoin="miter"/><circle cx="490.45" cy="496.08" r="0.5" fill="#000000"/><polygon points="500.96,487.6 496.51,494.8 505.41,494.8" fill="none" stroke="#000000" stroke-width="1" stroke-linejoin="miter"/><circle cx="500.96" cy="492.58" r="0.5" fill="#000000"/><polygon points="511.46,481 507.01,488.2 515.91,488.2" fill="none" stroke="#000000" stroke-width="1" stroke-linejoin="miter"/><circle cx="511.46" cy="485.98" r="0.5" fill="#000000"/><polygon points="521.96,470.9 517.51,478.1 526.41,478.1" fill="none" stroke="#000000" stroke-width="1" stroke-linejoin="miter"/><circle cx="521.96" cy="475.88" r="0.5" fill="#000000"/><polygon points="532.47,456.4 528.02,463.6 536.92,463.6" fill="none" stroke="#000000" stroke-width="1" stroke-linejoin="miter"/><circle cx="532.47" cy="461.38" r="0.5" fill="#000000"/><polygon points="542.97,436.9 538.52,444.1 547.42,444.1" fill="none" stroke="#000000" stroke-width="1" stroke-linejoin="miter"/><circle cx="542.97" cy="441.88" r="0.5" fill="#000000"/><polygon points="553.48,416.6 549.03,423.8 557.93,423.8" fill="none" stroke="#000000" stroke-width="1" stroke-linejoin="miter"/><circle cx="553.48" cy="421.58" r="0.5" fill="#000000"/><polygon points="563.98,403.4 559.53,410.6 568.43,410.6" fill="none" stroke="#000000" stroke-width="1" stroke-linejoin="miter"/><circle cx="563.98" cy="408.38" r="0.5" fill="#000000"/><polygon points="574.48,398.8 570.03,406 578.93,406" fill="none" stroke="#000000" stroke-width="1" stroke-linejoin="miter"/><circle cx="574.48" cy="403.78" r="0.5" fill="#000000"/><polygon points="584.99,402.4 580.54,409.6 589.44,409.6" fill="none" stroke="#000000" stroke-width="1" stroke-linejoin="miter"/><circle cx="584.99" cy="407.38" r="0.5" fill="#000000"/><polygon points="595.49,410.8 591.04,418 599.94,418" fill="none" stroke="#000000" stroke-width="1" stroke-linejoin="miter"/><circle cx="595.49" cy="415.78" r="0.5" fill="#000000"/><polygon points="606,421.9 601.55,429.1 610.45,429.1" fill="none" stroke="#000000" stroke-width="1" stroke-linejoin="miter"/><circle cx="606" cy="426.88" r="0.5" fill="#000000"/><polygon points="616.5,433.1 612.05,440.3 620.95,440.3" fill="none" stroke="#000000" stroke-width="1" stroke-linejoin="miter"/><circle cx="616.5" cy="438.08" r="0.5" fill="#000000"/><polygon points="627,444 622.55,451.2 631.45,451.2" fill="none" stroke="#000000" stroke-width="1" stroke-linejoin="miter"/><circle cx="627" cy="448.98" r="0.5" fill="#000000"/><polygon points="637.51,454.5 633.06,461.7 641.96,461.7" fill="none" stroke="#000000" stroke-width="1" stroke-linejoin="miter"/><circle cx="637.51" cy="459.48" r="0.5" fill="#000000"/><polygon points="648.01,464.2 643.56,471.4 652.46,471.4" fill="none" stroke="#000000" stroke-width="1" stroke-linejoin="miter"/><circle cx="648.01" cy="469.18" r="0.5" fill="#000000"/><polygon points="658.52,472.1 654.07,479.3 662.97,479.3" fill="none" stroke="#000000" stroke-width="1" stroke-linejoin="miter"/><circle cx="658.52" cy="477.08" r="0.5" fill="#000000"/><polygon points="669.02,478.4 664.57,485.6 673.47,485.6" fill="none" stroke="#000000" stroke-width="1" stroke-linejoin="miter"/><circle cx="669.02" cy="483.38" r="0.5" fill="#000000"/><polygon points="679.52,482.8 675.07,490 683.97,490" fill="none" stroke="#000000" stroke-width="1" stroke-linejoin="miter"/><circle cx="679.52" cy="487.78" r="0.5" fill="#000000"/><polygon points="690.03,486.4 685.58,493.6 694.48,493.6" fill="none" stroke="#000000" stroke-width="1" stroke-linejoin="miter"/><circle cx="690.03" cy="491.38" r="0.5" fill="#000000"/><polygon points="700.53,489 696.08,496.2 704.98,496.2" fill="none" stroke="#000000" stroke-width="1" stroke-linejoin="miter"/><circle cx="700.53" cy="493.98" r="0.5" fill="#000000"/><polygon points="711.04,491.5 706.59,498.7 715.49,498.7" fill="none" stroke="#000000" stroke-width="1" stroke-linejoin="miter"/><circle cx="711.04" cy="496.48" r="0.5" fill="#000000"/><polygon points="721.54,495.1 717.09,502.3 725.99,502.3" fill="none" stroke="#000000" stroke-width="1" stroke-linejoin="miter"/><circle cx="721.54" cy="500.08" r="0.5" fill="#000000"/><polygon points="732.04,498.7 727.59,505.9 736.49,505.9" fill="none" stroke="#000000" stroke-width="1" stroke-linejoin="miter"/><circle cx="732.04" cy="503.68" r="0.5" fill="#000000"/><polygon points="742.55,500.9 738.1,508.1 747,508.1" fill="none" stroke="#000000" stroke-width="1" stroke-linejoin="miter"/><circle cx="742.55" cy="505.88" r="0.5" fill="#000000"/><polygon points="753.05,503 748.6,510.2 757.5,510.2" fill="none" stroke="#000000" stroke-width="1" stroke-linejoin="miter"/><circle cx="753.05" cy="507.98" r="0.5" fill="#000000"/>
<polyline points="91.3,510.38 101.8,510.38 112.31,510.38 122.81,510.38 133.32,510.38 143.82,510.38 154.32,510.38 164.83,510.38 175.33,510.38 185.84,510.38 196.34,510.38 206.84,510.38 217.35,510.38 227.85,510.38 238.36,510.38 248.86,510.38 259.36,510.38 269.87,510.38 280.37,510.38 290.88,510.38 301.38,510.38 311.88,510.38 322.39,510.38 332.89,510.38 343.4,510.38 353.9,510.38 364.4,510.38 374.91,510.38 385.41,510.38 395.92,510.38 406.42,510.38 416.92,510.38 427.43,510.38 437.93,510.38 448.44,510.38 458.94,510.08 469.44,509.78 479.95,509.38 490.45,509.08 500.96,508.18 511.46,505.78 521.96,502.18 532.47,495.68 542.97,486.28 553.48,474.68 563.98,465.68 574.48,461.38 584.99,461.78 595.49,465.48 606,469.78 616.5,475.08 627,480.88 637.51,486.48 648.01,491.98 658.52,495.98 669.02,499.28 679.52,501.18 690.03,502.18 700.53,502.68 711.04,504.08 721.54,505.88 732.04,507.68 742.55,508.68 753.05,509.48" fill="none" stroke="#ff4d00" stroke-width="1" stroke-dasharray="4.02 8.04 24.12 8.04 4.02 8.04"/>
<polygon points="91.3,505.4 86.85,512.6 95.75,512.6" fill="#ff4d00"/><polygon points="101.8,505.4 97.35,512.6 106.25,512.6" fill="#ff4d00"/><polygon points="112.31,505.4 107.86,512.6 116.76,512.6" fill="#ff4d00"/><polygon points="122.81,505.4 118.36,512.6 127.26,512.6" fill="#ff4d00"/><polygon points="133.32,505.4 128.87,512.6 137.77,512.6" fill="#ff4d00"/><polygon points="143.82,505.4 139.37,512.6 148.27,512.6" fill="#ff4d00"/><polygon points="154.32,505.4 149.87,512.6 158.77,512.6" fill="#ff4d00"/><polygon points="164.83,505.4 160.38,512.6 169.28,512.6" fill="#ff4d00"/><polygon points="175.33,505.4 170.88,512.6 179.78,512.6" fill="#ff4d00"/><polygon points="185.84,505.4 181.39,512.6 190.29,512.6" fill="#ff4d00"/><polygon points="196.34,505.4 191.89,512.6 200.79,512.6" fill="#ff4d00"/><polygon points="206.84,505.4 202.39,512.6 211.29,512.6" fill="#ff4d00"/><polygon points="217.35,505.4 212.9,512.6 221.8,512.6" fill="#ff4d00"/><polygon points="227.85,505.4 223.4,512.6 232.3,512.6" fill="#ff4d00"/><polygon points="238.36,505.4 233.91,512.6 242.81,512.6" fill="#ff4d00"/><polygon points="248.86,505.4 244.41,512.6 253.31,512.6" fill="#ff4d00"/><polygon points="259.36,505.4 254.91,512.6 263.81,512.6" fill="#ff4d00"/><polygon points="269.87,505.4 265.42,512.6 274.32,512.6" fill="#ff4d00"/><polygon points="280.37,505.4 275.92,512.6 284.82,512.6" fill="#ff4d00"/><polygon points="290.88,505.4 286.43,512.6 295.33,512.6" fill="#ff4d00"/><polygon points="301.38,505.4 296.93,512.6 305.83,512.6" fill="#ff4d00"/><polygon points="311.88,505.4 307.43,512.6 316.33,512.6" fill="#ff4d00"/><polygon points="322.39,505.4 317.94,512.6 326.84,512.6" fill="#ff4d00"/><polygon points="332.89,505.4 328.44,512.6 337.34,512.6" fill="#ff4d00"/><polygon points="343.4,505.4 338.95,512.6 347.85,512.6" fill="#ff4d00"/><polygon points="353.9,505.4 349.45,512.6 358.35,512.6" fill="#ff4d00"/><polygon points="364.4,505.4 359.95,512.6 368.85,512.6" fill="#ff4d00"/><polygon points="374.91,505.4 370.46,512.6 379.36,512.6" fill="#ff4d00"/><polygon points="385.41,505.4 380.96,512.6 389.86,512.6" fill="#ff4d00"/><polygon points="395.92,505.4 391.47,512.6 400.37,512.6" fill="#ff4d00"/><polygon points="406.42,505.4 401.97,512.6 410.87,512.6" fill="#ff4d00"/><polygon points="416.92,505.4 412.47,512.6 421.37,512.6" fill="#ff4d00"/><polygon points="427.43,505.4 422.98,512.6 431.88,512.6" fill="#ff4d00"/><polygon points="437.93,505.4 433.48,512.6 442.38,512.6" fill="#ff4d00"/><polygon points="448.44,505.4 443.99,512.6 452.89,512.6" fill="#ff4d00"/><polygon points="458.94,505.1 454.49,512.3 463.39,512.3" fill="#ff4d00"/><polygon points="469.44,504.8 464.99,512 473.89,512" fill="#ff4d00"/><polygon points="479.95,504.4 475.5,511.6 484.4,511.6" fill="#ff4d00"/><polygon points="490.45,504.1 486,511.3 494.9,511.3" fill="#ff4d00"/><polygon points="500.96,503.2 496.51,510.4 505.41,510.4" fill="#ff4d00"/><polygon points="511.46,500.8 507.01,508 515.91,508" fill="#ff4d00"/><polygon points="521.96,497.2 517.51,504.4 526.41,504.4" fill="#ff4d00"/><polygon points="532.47,490.7 528.02,497.9 536.92,497.9" fill="#ff4d00"/><polygon points="542.97,481.3 538.52,488.5 547.42,488.5" fill="#ff4d00"/><polygon points="553.48,469.7 549.03,476.9 557.93,476.9" fill="#ff4d00"/><polygon points="563.98,460.7 559.53,467.9 568.43,467.9" fill="#ff4d00"/><polygon points="574.48,456.4 570.03,463.6 578.93,463.6" fill="#ff4d00"/><polygon points="584.99,456.8 580.54,464 589.44,464" fill="#ff4d00"/><polygon points="595.49,460.5 591.04,467.7 599.94,467.7" fill="#ff4d00"/><polygon points="606,464.8 601.55,472 610.45,472" fill="#ff4d00"/><polygon points="616.5,470.1 612.05,477.3 620.95,477.3" fill="#ff4d00"/><polygon points="627,475.9 622.55,483.1 631.45,483.1" fill="#ff4d00"/><polygon points="637.51,481.5 633.06,488.7 641.96,488.7" fill="#ff4d00"/><polygon points="648.01,487 643.56,494.2 652.46,494.2" fill="#ff4d00"/><polygon points="658.52,491 654.07,498.2 662.97,498.2" fill="#ff4d00"/><polygon points="669.02,494.3 664.57,501.5 673.47,501.5" fill="#ff4d00"/><polygon points="679.52,496.2 675.07,503.4 683.97,503.4" fill="#ff4d00"/><polygon points="690.03,497.2 685.58,504.4 694.48,504.4" fill="#ff4d00"/><polygon points="700.53,497.7 696.08,504.9 704.98,504.9" fill="#ff4d00"/><polygon points="711.04,499.1 706.59,506.3 715.49,506.3" fill="#ff4d00"/><polygon points="721.54,500.9 717.09,508.1 725.99,508.1" fill="#ff4d00"/><polygon points="732.04,502.7 727.59,509.9 736.49,509.9" fill="#ff4d00"/><polygon points="742.55,503.7 738.1,510.9 747,510.9" fill="#ff4d00"/><polygon points="753.05,504.5 748.6,511.7 757.5,511.7" fill="#ff4d00"/>
</g>
<rect x="108.1" y="197.4" width="208" height="165.4" fill="#fff" stroke="#000" stroke-width="2"/>
<g transform="translate(208.2 217.8)" fill="#000"><text x="-81.78" y="0" font-family="Liberation Sans" font-size="28" transform="scale(1 1.04)">U</text><text x="-61.56" y="8.4" font-family="Liberation Sans" font-size="22.4">i</text><rect x="-55.19" y="-8.7" width="13.6" height="1.9"/><rect x="-55.19" y="-4.45" width="13.6" height="1.9"/><text x="-40.24" y="0" font-family="Liberation Sans" font-size="28"> </text><text x="-32.46" y="0" font-family="Liberation Sans" font-size="28" transform="scale(1 1.04)">0</text><text x="-15.98" y="0" font-family="Liberation Serif" font-size="28" transform="scale(1.07 1.04)">Γ</text></g>
<line x1="224.2" y1="211.2" x2="299.3" y2="211.2" stroke="#ff0000" stroke-width="1"/>
<rect x="257.25" y="206.75" width="8.9" height="8.9" fill="none" stroke="#ff0000" stroke-width="1"/>
<g transform="translate(208.2 245.5)" fill="#000"><text x="-81.78" y="0" font-family="Liberation Sans" font-size="28" transform="scale(1 1.04)">U</text><text x="-61.56" y="8.4" font-family="Liberation Sans" font-size="22.4">i</text><rect x="-55.19" y="-8.7" width="13.6" height="1.9"/><rect x="-55.19" y="-4.45" width="13.6" height="1.9"/><text x="-40.24" y="0" font-family="Liberation Sans" font-size="28"> </text><text x="-32.46" y="0" font-family="Liberation Sans" font-size="28" transform="scale(1 1.04)">2</text><text x="-15.98" y="0" font-family="Liberation Serif" font-size="28" transform="scale(1.07 1.04)">Γ</text></g>
<line x1="224.2" y1="238.9" x2="299.3" y2="238.9" stroke="#00ff00" stroke-width="1" stroke-dasharray="16.08 8.04"/>
<rect x="257.25" y="234.45" width="8.9" height="8.9" fill="#00ff00"/>
<g transform="translate(208.2 273.2)" fill="#000"><text x="-81.78" y="0" font-family="Liberation Sans" font-size="28" transform="scale(1 1.04)">U</text><text x="-61.56" y="8.4" font-family="Liberation Sans" font-size="22.4">i</text><rect x="-55.19" y="-8.7" width="13.6" height="1.9"/><rect x="-55.19" y="-4.45" width="13.6" height="1.9"/><text x="-40.24" y="0" font-family="Liberation Sans" font-size="28"> </text><text x="-32.46" y="0" font-family="Liberation Sans" font-size="28" transform="scale(1 1.04)">4</text><text x="-15.98" y="0" font-family="Liberation Serif" font-size="28" transform="scale(1.07 1.04)">Γ</text></g>
<line x1="224.2" y1="266.6" x2="299.3" y2="266.6" stroke="#0000ff" stroke-width="1" stroke-dasharray="8.04 12.06"/>
<circle cx="261.7" cy="266.6" r="4.25" fill="none" stroke="#0000ff" stroke-width="1"/><circle cx="261.7" cy="266.6" r="0.55" fill="#0000ff"/>
<g transform="translate(208.2 300.9)" fill="#000"><text x="-81.78" y="0" font-family="Liberation Sans" font-size="28" transform="scale(1 1.04)">U</text><text x="-61.56" y="8.4" font-family="Liberation Sans" font-size="22.4">i</text><rect x="-55.19" y="-8.7" width="13.6" height="1.9"/><rect x="-55.19" y="-4.45" width="13.6" height="1.9"/><text x="-40.24" y="0" font-family="Liberation Sans" font-size="28"> </text><text x="-32.46" y="0" font-family="Liberation Sans" font-size="28" transform="scale(1 1.04)">6</text><text x="-15.98" y="0" font-family="Liberation Serif" font-size="28" transform="scale(1.07 1.04)">Γ</text></g>
<line x1="224.2" y1="294.3" x2="299.3" y2="294.3" stroke="#ff00ff" stroke-width="1" stroke-dasharray="4.02 6.03"/>
<circle cx="261.7" cy="294.3" r="4.55" fill="#ff00ff"/>
<g transform="translate(208.2 328.6)" fill="#000"><text x="-81.78" y="0" font-family="Liberation Sans" font-size="28" transform="scale(1 1.04)">U</text><text x="-61.56" y="8.4" font-family="Liberation Sans" font-size="22.4">i</text><rect x="-55.19" y="-8.7" width="13.6" height="1.9"/><rect x="-55.19" y="-4.45" width="13.6" height="1.9"/><text x="-40.24" y="0" font-family="Liberation Sans" font-size="28"> </text><text x="-32.46" y="0" font-family="Liberation Sans" font-size="28" transform="scale(1 1.04)">8</text><text x="-15.98" y="0" font-family="Liberation Serif" font-size="28" transform="scale(1.07 1.04)">Γ</text></g>
<line x1="224.2" y1="322" x2="299.3" y2="322" stroke="#000000" stroke-width="1" stroke-dasharray="8.04 8.04 8.04 24.12"/>
<polygon points="261.7,317.02 257.25,324.22 266.15,324.22" fill="none" stroke="#000000" stroke-width="1" stroke-linejoin="miter"/><circle cx="261.7" cy="322" r="0.5" fill="#000000"/>
<g transform="translate(208.2 356.3)" fill="#000"><text x="-89.58" y="0" font-family="Liberation Sans" font-size="28" transform="scale(1 1.04)">U</text><text x="-69.36" y="8.4" font-family="Liberation Sans" font-size="22.4">i</text><rect x="-62.98" y="-8.7" width="13.6" height="1.9"/><rect x="-62.98" y="-4.45" width="13.6" height="1.9"/><path d="M-40.33 0L-40.33 -14.14L-45.2 -14.14L-45.2 -15.85C-42.43 -16.16 -40.47 -17.08 -39.57 -19.85L-37.98 -19.85L-37.98 0Z"/><text x="-32.46" y="0" font-family="Liberation Sans" font-size="28" transform="scale(1 1.04)">0</text><text x="-15.98" y="0" font-family="Liberation Serif" font-size="28" transform="scale(1.07 1.04)">Γ</text></g>
<line x1="224.2" y1="349.7" x2="299.3" y2="349.7" stroke="#ff4d00" stroke-width="1" stroke-dasharray="4.02 8.04 24.12 8.04 4.02 8.04"/>
<polygon points="261.7,344.72 257.25,351.93 266.15,351.93" fill="#ff4d00"/>
<g clip-path="url(#cb)">
<polyline points="91.3,926 101.8,925.98 112.31,925.97 122.81,925.96 133.32,925.94 143.82,925.92 154.32,925.91 164.83,925.89 175.33,925.88 185.84,925.87 196.34,925.85 206.84,925.84 217.35,925.82 227.85,925.81 238.36,925.79 248.86,925.78 259.36,925.76 269.87,925.75 280.37,925.73 290.88,925.72 301.38,925.7 311.88,925.7 322.39,925.7 332.89,925.9 343.4,926.1 353.9,926.3 364.4,926.6 374.91,926.9 385.41,927.6 395.92,928.1 406.42,928.8 416.92,929.4 427.43,930.3 437.93,931.1 448.44,931.6 458.94,932.6 469.44,933.7 479.95,934.7 490.45,936.3 500.96,937.3 511.46,938 521.96,937.3 532.47,929.8 542.97,914.6 553.48,892.5 563.98,865.3 574.48,836.9 584.99,810.9 595.49,784.9 606,754 616.5,726.2 627,703.5 637.51,684.3 648.01,664.9 658.52,647.1 669.02,631 679.52,617.7 690.03,607.5 700.53,600.1 711.04,594.3 721.54,589.5 732.04,586 742.55,582.9 753.05,581.3" fill="none" stroke="#ff0000" stroke-width="1"/>
<rect x="86.85" y="921.55" width="8.9" height="8.9" fill="none" stroke="#ff0000" stroke-width="1"/><rect x="97.35" y="921.53" width="8.9" height="8.9" fill="none" stroke="#ff0000" stroke-width="1"/><rect x="107.86" y="921.52" width="8.9" height="8.9" fill="none" stroke="#ff0000" stroke-width="1"/><rect x="118.36" y="921.5" width="8.9" height="8.9" fill="none" stroke="#ff0000" stroke-width="1"/><rect x="128.87" y="921.49" width="8.9" height="8.9" fill="none" stroke="#ff0000" stroke-width="1"/><rect x="139.37" y="921.47" width="8.9" height="8.9" fill="none" stroke="#ff0000" stroke-width="1"/><rect x="149.87" y="921.46" width="8.9" height="8.9" fill="none" stroke="#ff0000" stroke-width="1"/><rect x="160.38" y="921.44" width="8.9" height="8.9" fill="none" stroke="#ff0000" stroke-width="1"/><rect x="170.88" y="921.43" width="8.9" height="8.9" fill="none" stroke="#ff0000" stroke-width="1"/><rect x="181.39" y="921.42" width="8.9" height="8.9" fill="none" stroke="#ff0000" stroke-width="1"/><rect x="191.89" y="921.4" width="8.9" height="8.9" fill="none" stroke="#ff0000" stroke-width="1"/><rect x="202.39" y="921.38" width="8.9" height="8.9" fill="none" stroke="#ff0000" stroke-width="1"/><rect x="212.9" y="921.37" width="8.9" height="8.9" fill="none" stroke="#ff0000" stroke-width="1"/><rect x="223.4" y="921.36" width="8.9" height="8.9" fill="none" stroke="#ff0000" stroke-width="1"/><rect x="233.91" y="921.34" width="8.9" height="8.9" fill="none" stroke="#ff0000" stroke-width="1"/><rect x="244.41" y="921.33" width="8.9" height="8.9" fill="none" stroke="#ff0000" stroke-width="1"/><rect x="254.91" y="921.31" width="8.9" height="8.9" fill="none" stroke="#ff0000" stroke-width="1"/><rect x="265.42" y="921.3" width="8.9" height="8.9" fill="none" stroke="#ff0000" stroke-width="1"/><rect x="275.92" y="921.28" width="8.9" height="8.9" fill="none" stroke="#ff0000" stroke-width="1"/><rect x="286.43" y="921.26" width="8.9" height="8.9" fill="none" stroke="#ff0000" stroke-width="1"/><rect x="296.93" y="921.25" width="8.9" height="8.9" fill="none" stroke="#ff0000" stroke-width="1"/><rect x="307.43" y="921.25" width="8.9" height="8.9" fill="none" stroke="#ff0000" stroke-width="1"/><rect x="317.94" y="921.25" width="8.9" height="8.9" fill="none" stroke="#ff0000" stroke-width="1"/><rect x="328.44" y="921.45" width="8.9" height="8.9" fill="none" stroke="#ff0000" stroke-width="1"/><rect x="338.95" y="921.65" width="8.9" height="8.9" fill="none" stroke="#ff0000" stroke-width="1"/><rect x="349.45" y="921.85" width="8.9" height="8.9" fill="none" stroke="#ff0000" stroke-width="1"/><rect x="359.95" y="922.15" width="8.9" height="8.9" fill="none" stroke="#ff0000" stroke-width="1"/><rect x="370.46" y="922.45" width="8.9" height="8.9" fill="none" stroke="#ff0000" stroke-width="1"/><rect x="380.96" y="923.15" width="8.9" height="8.9" fill="none" stroke="#ff0000" stroke-width="1"/><rect x="391.47" y="923.65" width="8.9" height="8.9" fill="none" stroke="#ff0000" stroke-width="1"/><rect x="401.97" y="924.35" width="8.9" height="8.9" fill="none" stroke="#ff0000" stroke-width="1"/><rect x="412.47" y="924.95" width="8.9" height="8.9" fill="none" stroke="#ff0000" stroke-width="1"/><rect x="422.98" y="925.85" width="8.9" height="8.9" fill="none" stroke="#ff0000" stroke-width="1"/><rect x="433.48" y="926.65" width="8.9" height="8.9" fill="none" stroke="#ff0000" stroke-width="1"/><rect x="443.99" y="927.15" width="8.9" height="8.9" fill="none" stroke="#ff0000" stroke-width="1"/><rect x="454.49" y="928.15" width="8.9" height="8.9" fill="none" stroke="#ff0000" stroke-width="1"/><rect x="464.99" y="929.25" width="8.9" height="8.9" fill="none" stroke="#ff0000" stroke-width="1"/><rect x="475.5" y="930.25" width="8.9" height="8.9" fill="none" stroke="#ff0000" stroke-width="1"/><rect x="486" y="931.85" width="8.9" height="8.9" fill="none" stroke="#ff0000" stroke-width="1"/><rect x="496.51" y="932.85" width="8.9" height="8.9" fill="none" stroke="#ff0000" stroke-width="1"/><rect x="507.01" y="933.55" width="8.9" height="8.9" fill="none" stroke="#ff0000" stroke-width="1"/><rect x="517.51" y="932.85" width="8.9" height="8.9" fill="none" stroke="#ff0000" stroke-width="1"/><rect x="528.02" y="925.35" width="8.9" height="8.9" fill="none" stroke="#ff0000" stroke-width="1"/><rect x="538.52" y="910.15" width="8.9" height="8.9" fill="none" stroke="#ff0000" stroke-width="1"/><rect x="549.03" y="888.05" width="8.9" height="8.9" fill="none" stroke="#ff0000" stroke-width="1"/><rect x="559.53" y="860.85" width="8.9" height="8.9" fill="none" stroke="#ff0000" stroke-width="1"/><rect x="570.03" y="832.45" width="8.9" height="8.9" fill="none" stroke="#ff0000" stroke-width="1"/><rect x="580.54" y="806.45" width="8.9" height="8.9" fill="none" stroke="#ff0000" stroke-width="1"/><rect x="591.04" y="780.45" width="8.9" height="8.9" fill="none" stroke="#ff0000" stroke-width="1"/><rect x="601.55" y="749.55" width="8.9" height="8.9" fill="none" stroke="#ff0000" stroke-width="1"/><rect x="612.05" y="721.75" width="8.9" height="8.9" fill="none" stroke="#ff0000" stroke-width="1"/><rect x="622.55" y="699.05" width="8.9" height="8.9" fill="none" stroke="#ff0000" stroke-width="1"/><rect x="633.06" y="679.85" width="8.9" height="8.9" fill="none" stroke="#ff0000" stroke-width="1"/><rect x="643.56" y="660.45" width="8.9" height="8.9" fill="none" stroke="#ff0000" stroke-width="1"/><rect x="654.07" y="642.65" width="8.9" height="8.9" fill="none" stroke="#ff0000" stroke-width="1"/><rect x="664.57" y="626.55" width="8.9" height="8.9" fill="none" stroke="#ff0000" stroke-width="1"/><rect x="675.07" y="613.25" width="8.9" height="8.9" fill="none" stroke="#ff0000" stroke-width="1"/><rect x="685.58" y="603.05" width="8.9" height="8.9" fill="none" stroke="#ff0000" stroke-width="1"/><rect x="696.08" y="595.65" width="8.9" height="8.9" fill="none" stroke="#ff0000" stroke-width="1"/><rect x="706.59" y="589.85" width="8.9" height="8.9" fill="none" stroke="#ff0000" stroke-width="1"/><rect x="717.09" y="585.05" width="8.9" height="8.9" fill="none" stroke="#ff0000" stroke-width="1"/><rect x="727.59" y="581.55" width="8.9" height="8.9" fill="none" stroke="#ff0000" stroke-width="1"/><rect x="738.1" y="578.45" width="8.9" height="8.9" fill="none" stroke="#ff0000" stroke-width="1"/><rect x="748.6" y="576.85" width="8.9" height="8.9" fill="none" stroke="#ff0000" stroke-width="1"/>
<polyline points="91.3,817.1 101.8,817.1 112.31,817.1 122.81,817.1 133.32,817.1 143.82,817.1 154.32,817.1 164.83,817.1 175.33,817.1 185.84,817.1 196.34,817.1 206.84,817.1 217.35,817.1 227.85,817.1 238.36,817.1 248.86,817.1 259.36,817.1 269.87,817.1 280.37,817.1 290.88,817.1 301.38,817.1 311.88,817.1 322.39,817.1 332.89,817.17 343.4,817.23 353.9,817.3 364.4,817.55 374.91,817.8 385.41,818.1 395.92,818.5 406.42,818.8 416.92,819.3 427.43,819.6 437.93,819.8 448.44,819.9 458.94,820.2 469.44,820.9 479.95,821.3 490.45,822.4 500.96,825 511.46,828.5 521.96,826.7 532.47,816.3 542.97,801.4 553.48,786.6 563.98,776.7 574.48,767.3 584.99,752.8 595.49,732.4 606,713.2 616.5,696.6 627,681.5 637.51,664.8 648.01,650 658.52,633.3 669.02,618.9 679.52,607.5 690.03,599.8 700.53,594.6 711.04,590.4 721.54,587.1 732.04,584.5 742.55,582.1 753.05,580.5" fill="none" stroke="#00ff00" stroke-width="1" stroke-dasharray="16.08 8.04"/>
<rect x="86.85" y="812.65" width="8.9" height="8.9" fill="#00ff00"/><rect x="97.35" y="812.65" width="8.9" height="8.9" fill="#00ff00"/><rect x="107.86" y="812.65" width="8.9" height="8.9" fill="#00ff00"/><rect x="118.36" y="812.65" width="8.9" height="8.9" fill="#00ff00"/><rect x="128.87" y="812.65" width="8.9" height="8.9" fill="#00ff00"/><rect x="139.37" y="812.65" width="8.9" height="8.9" fill="#00ff00"/><rect x="149.87" y="812.65" width="8.9" height="8.9" fill="#00ff00"/><rect x="160.38" y="812.65" width="8.9" height="8.9" fill="#00ff00"/><rect x="170.88" y="812.65" width="8.9" height="8.9" fill="#00ff00"/><rect x="181.39" y="812.65" width="8.9" height="8.9" fill="#00ff00"/><rect x="191.89" y="812.65" width="8.9" height="8.9" fill="#00ff00"/><rect x="202.39" y="812.65" width="8.9" height="8.9" fill="#00ff00"/><rect x="212.9" y="812.65" width="8.9" height="8.9" fill="#00ff00"/><rect x="223.4" y="812.65" width="8.9" height="8.9" fill="#00ff00"/><rect x="233.91" y="812.65" width="8.9" height="8.9" fill="#00ff00"/><rect x="244.41" y="812.65" width="8.9" height="8.9" fill="#00ff00"/><rect x="254.91" y="812.65" width="8.9" height="8.9" fill="#00ff00"/><rect x="265.42" y="812.65" width="8.9" height="8.9" fill="#00ff00"/><rect x="275.92" y="812.65" width="8.9" height="8.9" fill="#00ff00"/><rect x="286.43" y="812.65" width="8.9" height="8.9" fill="#00ff00"/><rect x="296.93" y="812.65" width="8.9" height="8.9" fill="#00ff00"/><rect x="307.43" y="812.65" width="8.9" height="8.9" fill="#00ff00"/><rect x="317.94" y="812.65" width="8.9" height="8.9" fill="#00ff00"/><rect x="328.44" y="812.72" width="8.9" height="8.9" fill="#00ff00"/><rect x="338.95" y="812.78" width="8.9" height="8.9" fill="#00ff00"/><rect x="349.45" y="812.85" width="8.9" height="8.9" fill="#00ff00"/><rect x="359.95" y="813.1" width="8.9" height="8.9" fill="#00ff00"/><rect x="370.46" y="813.35" width="8.9" height="8.9" fill="#00ff00"/><rect x="380.96" y="813.65" width="8.9" height="8.9" fill="#00ff00"/><rect x="391.47" y="814.05" width="8.9" height="8.9" fill="#00ff00"/><rect x="401.97" y="814.35" width="8.9" height="8.9" fill="#00ff00"/><rect x="412.47" y="814.85" width="8.9" height="8.9" fill="#00ff00"/><rect x="422.98" y="815.15" width="8.9" height="8.9" fill="#00ff00"/><rect x="433.48" y="815.35" width="8.9" height="8.9" fill="#00ff00"/><rect x="443.99" y="815.45" width="8.9" height="8.9" fill="#00ff00"/><rect x="454.49" y="815.75" width="8.9" height="8.9" fill="#00ff00"/><rect x="464.99" y="816.45" width="8.9" height="8.9" fill="#00ff00"/><rect x="475.5" y="816.85" width="8.9" height="8.9" fill="#00ff00"/><rect x="486" y="817.95" width="8.9" height="8.9" fill="#00ff00"/><rect x="496.51" y="820.55" width="8.9" height="8.9" fill="#00ff00"/><rect x="507.01" y="824.05" width="8.9" height="8.9" fill="#00ff00"/><rect x="517.51" y="822.25" width="8.9" height="8.9" fill="#00ff00"/><rect x="528.02" y="811.85" width="8.9" height="8.9" fill="#00ff00"/><rect x="538.52" y="796.95" width="8.9" height="8.9" fill="#00ff00"/><rect x="549.03" y="782.15" width="8.9" height="8.9" fill="#00ff00"/><rect x="559.53" y="772.25" width="8.9" height="8.9" fill="#00ff00"/><rect x="570.03" y="762.85" width="8.9" height="8.9" fill="#00ff00"/><rect x="580.54" y="748.35" width="8.9" height="8.9" fill="#00ff00"/><rect x="591.04" y="727.95" width="8.9" height="8.9" fill="#00ff00"/><rect x="601.55" y="708.75" width="8.9" height="8.9" fill="#00ff00"/><rect x="612.05" y="692.15" width="8.9" height="8.9" fill="#00ff00"/><rect x="622.55" y="677.05" width="8.9" height="8.9" fill="#00ff00"/><rect x="633.06" y="660.35" width="8.9" height="8.9" fill="#00ff00"/><rect x="643.56" y="645.55" width="8.9" height="8.9" fill="#00ff00"/><rect x="654.07" y="628.85" width="8.9" height="8.9" fill="#00ff00"/><rect x="664.57" y="614.45" width="8.9" height="8.9" fill="#00ff00"/><rect x="675.07" y="603.05" width="8.9" height="8.9" fill="#00ff00"/><rect x="685.58" y="595.35" width="8.9" height="8.9" fill="#00ff00"/><rect x="696.08" y="590.15" width="8.9" height="8.9" fill="#00ff00"/><rect x="706.59" y="585.95" width="8.9" height="8.9" fill="#00ff00"/><rect x="717.09" y="582.65" width="8.9" height="8.9" fill="#00ff00"/><rect x="727.59" y="580.05" width="8.9" height="8.9" fill="#00ff00"/><rect x="738.1" y="577.65" width="8.9" height="8.9" fill="#00ff00"/><rect x="748.6" y="576.05" width="8.9" height="8.9" fill="#00ff00"/>
<polyline points="91.3,725.4 101.8,725.42 112.31,725.44 122.81,725.45 133.32,725.47 143.82,725.49 154.32,725.51 164.83,725.53 175.33,725.55 185.84,725.56 196.34,725.58 206.84,725.6 217.35,725.62 227.85,725.64 238.36,725.65 248.86,725.67 259.36,725.69 269.87,725.71 280.37,725.73 290.88,725.75 301.38,725.76 311.88,725.78 322.39,725.8 332.89,725.9 343.4,726.2 353.9,726.5 364.4,726.9 374.91,727.5 385.41,728.2 395.92,729 406.42,729.5 416.92,730.1 427.43,730.7 437.93,730.6 448.44,730.8 458.94,731.1 469.44,732.7 479.95,734.9 490.45,736.6 500.96,735.5 511.46,730.4 521.96,723.2 532.47,715.9 542.97,711.2 553.48,709.7 563.98,709.7 574.48,707.8 584.99,701.8 595.49,692.2 606,681.5 616.5,670.2 627,657.7 637.51,644.1 648.01,631.1 658.52,618.9 669.02,608.7 679.52,600.9 690.03,595.4 700.53,591.5 711.04,588.4 721.54,585.2 732.04,582.9 742.55,581 753.05,579.8" fill="none" stroke="#0000ff" stroke-width="1" stroke-dasharray="8.04 12.06"/>
<circle cx="91.3" cy="725.4" r="4.25" fill="none" stroke="#0000ff" stroke-width="1"/><circle cx="91.3" cy="725.4" r="0.55" fill="#0000ff"/><circle cx="101.8" cy="725.42" r="4.25" fill="none" stroke="#0000ff" stroke-width="1"/><circle cx="101.8" cy="725.42" r="0.55" fill="#0000ff"/><circle cx="112.31" cy="725.44" r="4.25" fill="none" stroke="#0000ff" stroke-width="1"/><circle cx="112.31" cy="725.44" r="0.55" fill="#0000ff"/><circle cx="122.81" cy="725.45" r="4.25" fill="none" stroke="#0000ff" stroke-width="1"/><circle cx="122.81" cy="725.45" r="0.55" fill="#0000ff"/><circle cx="133.32" cy="725.47" r="4.25" fill="none" stroke="#0000ff" stroke-width="1"/><circle cx="133.32" cy="725.47" r="0.55" fill="#0000ff"/><circle cx="143.82" cy="725.49" r="4.25" fill="none" stroke="#0000ff" stroke-width="1"/><circle cx="143.82" cy="725.49" r="0.55" fill="#0000ff"/><circle cx="154.32" cy="725.51" r="4.25" fill="none" stroke="#0000ff" stroke-width="1"/><circle cx="154.32" cy="725.51" r="0.55" fill="#0000ff"/><circle cx="164.83" cy="725.53" r="4.25" fill="none" stroke="#0000ff" stroke-width="1"/><circle cx="164.83" cy="725.53" r="0.55" fill="#0000ff"/><circle cx="175.33" cy="725.55" r="4.25" fill="none" stroke="#0000ff" stroke-width="1"/><circle cx="175.33" cy="725.55" r="0.55" fill="#0000ff"/><circle cx="185.84" cy="725.56" r="4.25" fill="none" stroke="#0000ff" stroke-width="1"/><circle cx="185.84" cy="725.56" r="0.55" fill="#0000ff"/><circle cx="196.34" cy="725.58" r="4.25" fill="none" stroke="#0000ff" stroke-width="1"/><circle cx="196.34" cy="725.58" r="0.55" fill="#0000ff"/><circle cx="206.84" cy="725.6" r="4.25" fill="none" stroke="#0000ff" stroke-width="1"/><circle cx="206.84" cy="725.6" r="0.55" fill="#0000ff"/><circle cx="217.35" cy="725.62" r="4.25" fill="none" stroke="#0000ff" stroke-width="1"/><circle cx="217.35" cy="725.62" r="0.55" fill="#0000ff"/><circle cx="227.85" cy="725.64" r="4.25" fill="none" stroke="#0000ff" stroke-width="1"/><circle cx="227.85" cy="725.64" r="0.55" fill="#0000ff"/><circle cx="238.36" cy="725.65" r="4.25" fill="none" stroke="#0000ff" stroke-width="1"/><circle cx="238.36" cy="725.65" r="0.55" fill="#0000ff"/><circle cx="248.86" cy="725.67" r="4.25" fill="none" stroke="#0000ff" stroke-width="1"/><circle cx="248.86" cy="725.67" r="0.55" fill="#0000ff"/><circle cx="259.36" cy="725.69" r="4.25" fill="none" stroke="#0000ff" stroke-width="1"/><circle cx="259.36" cy="725.69" r="0.55" fill="#0000ff"/><circle cx="269.87" cy="725.71" r="4.25" fill="none" stroke="#0000ff" stroke-width="1"/><circle cx="269.87" cy="725.71" r="0.55" fill="#0000ff"/><circle cx="280.37" cy="725.73" r="4.25" fill="none" stroke="#0000ff" stroke-width="1"/><circle cx="280.37" cy="725.73" r="0.55" fill="#0000ff"/><circle cx="290.88" cy="725.75" r="4.25" fill="none" stroke="#0000ff" stroke-width="1"/><circle cx="290.88" cy="725.75" r="0.55" fill="#0000ff"/><circle cx="301.38" cy="725.76" r="4.25" fill="none" stroke="#0000ff" stroke-width="1"/><circle cx="301.38" cy="725.76" r="0.55" fill="#0000ff"/><circle cx="311.88" cy="725.78" r="4.25" fill="none" stroke="#0000ff" stroke-width="1"/><circle cx="311.88" cy="725.78" r="0.55" fill="#0000ff"/><circle cx="322.39" cy="725.8" r="4.25" fill="none" stroke="#0000ff" stroke-width="1"/><circle cx="322.39" cy="725.8" r="0.55" fill="#0000ff"/><circle cx="332.89" cy="725.9" r="4.25" fill="none" stroke="#0000ff" stroke-width="1"/><circle cx="332.89" cy="725.9" r="0.55" fill="#0000ff"/><circle cx="343.4" cy="726.2" r="4.25" fill="none" stroke="#0000ff" stroke-width="1"/><circle cx="343.4" cy="726.2" r="0.55" fill="#0000ff"/><circle cx="353.9" cy="726.5" r="4.25" fill="none" stroke="#0000ff" stroke-width="1"/><circle cx="353.9" cy="726.5" r="0.55" fill="#0000ff"/><circle cx="364.4" cy="726.9" r="4.25" fill="none" stroke="#0000ff" stroke-width="1"/><circle cx="364.4" cy="726.9" r="0.55" fill="#0000ff"/><circle cx="374.91" cy="727.5" r="4.25" fill="none" stroke="#0000ff" stroke-width="1"/><circle cx="374.91" cy="727.5" r="0.55" fill="#0000ff"/><circle cx="385.41" cy="728.2" r="4.25" fill="none" stroke="#0000ff" stroke-width="1"/><circle cx="385.41" cy="728.2" r="0.55" fill="#0000ff"/><circle cx="395.92" cy="729" r="4.25" fill="none" stroke="#0000ff" stroke-width="1"/><circle cx="395.92" cy="729" r="0.55" fill="#0000ff"/><circle cx="406.42" cy="729.5" r="4.25" fill="none" stroke="#0000ff" stroke-width="1"/><circle cx="406.42" cy="729.5" r="0.55" fill="#0000ff"/><circle cx="416.92" cy="730.1" r="4.25" fill="none" stroke="#0000ff" stroke-width="1"/><circle cx="416.92" cy="730.1" r="0.55" fill="#0000ff"/><circle cx="427.43" cy="730.7" r="4.25" fill="none" stroke="#0000ff" stroke-width="1"/><circle cx="427.43" cy="730.7" r="0.55" fill="#0000ff"/><circle cx="437.93" cy="730.6" r="4.25" fill="none" stroke="#0000ff" stroke-width="1"/><circle cx="437.93" cy="730.6" r="0.55" fill="#0000ff"/><circle cx="448.44" cy="730.8" r="4.25" fill="none" stroke="#0000ff" stroke-width="1"/><circle cx="448.44" cy="730.8" r="0.55" fill="#0000ff"/><circle cx="458.94" cy="731.1" r="4.25" fill="none" stroke="#0000ff" stroke-width="1"/><circle cx="458.94" cy="731.1" r="0.55" fill="#0000ff"/><circle cx="469.44" cy="732.7" r="4.25" fill="none" stroke="#0000ff" stroke-width="1"/><circle cx="469.44" cy="732.7" r="0.55" fill="#0000ff"/><circle cx="479.95" cy="734.9" r="4.25" fill="none" stroke="#0000ff" stroke-width="1"/><circle cx="479.95" cy="734.9" r="0.55" fill="#0000ff"/><circle cx="490.45" cy="736.6" r="4.25" fill="none" stroke="#0000ff" stroke-width="1"/><circle cx="490.45" cy="736.6" r="0.55" fill="#0000ff"/><circle cx="500.96" cy="735.5" r="4.25" fill="none" stroke="#0000ff" stroke-width="1"/><circle cx="500.96" cy="735.5" r="0.55" fill="#0000ff"/><circle cx="511.46" cy="730.4" r="4.25" fill="none" stroke="#0000ff" stroke-width="1"/><circle cx="511.46" cy="730.4" r="0.55" fill="#0000ff"/><circle cx="521.96" cy="723.2" r="4.25" fill="none" stroke="#0000ff" stroke-width="1"/><circle cx="521.96" cy="723.2" r="0.55" fill="#0000ff"/><circle cx="532.47" cy="715.9" r="4.25" fill="none" stroke="#0000ff" stroke-width="1"/><circle cx="532.47" cy="715.9" r="0.55" fill="#0000ff"/><circle cx="542.97" cy="711.2" r="4.25" fill="none" stroke="#0000ff" stroke-width="1"/><circle cx="542.97" cy="711.2" r="0.55" fill="#0000ff"/><circle cx="553.48" cy="709.7" r="4.25" fill="none" stroke="#0000ff" stroke-width="1"/><circle cx="553.48" cy="709.7" r="0.55" fill="#0000ff"/><circle cx="563.98" cy="709.7" r="4.25" fill="none" stroke="#0000ff" stroke-width="1"/><circle cx="563.98" cy="709.7" r="0.55" fill="#0000ff"/><circle cx="574.48" cy="707.8" r="4.25" fill="none" stroke="#0000ff" stroke-width="1"/><circle cx="574.48" cy="707.8" r="0.55" fill="#0000ff"/><circle cx="584.99" cy="701.8" r="4.25" fill="none" stroke="#0000ff" stroke-width="1"/><circle cx="584.99" cy="701.8" r="0.55" fill="#0000ff"/><circle cx="595.49" cy="692.2" r="4.25" fill="none" stroke="#0000ff" stroke-width="1"/><circle cx="595.49" cy="692.2" r="0.55" fill="#0000ff"/><circle cx="606" cy="681.5" r="4.25" fill="none" stroke="#0000ff" stroke-width="1"/><circle cx="606" cy="681.5" r="0.55" fill="#0000ff"/><circle cx="616.5" cy="670.2" r="4.25" fill="none" stroke="#0000ff" stroke-width="1"/><circle cx="616.5" cy="670.2" r="0.55" fill="#0000ff"/><circle cx="627" cy="657.7" r="4.25" fill="none" stroke="#0000ff" stroke-width="1"/><circle cx="627" cy="657.7" r="0.55" fill="#0000ff"/><circle cx="637.51" cy="644.1" r="4.25" fill="none" stroke="#0000ff" stroke-width="1"/><circle cx="637.51" cy="644.1" r="0.55" fill="#0000ff"/><circle cx="648.01" cy="631.1" r="4.25" fill="none" stroke="#0000ff" stroke-width="1"/><circle cx="648.01" cy="631.1" r="0.55" fill="#0000ff"/><circle cx="658.52" cy="618.9" r="4.25" fill="none" stroke="#0000ff" stroke-width="1"/><circle cx="658.52" cy="618.9" r="0.55" fill="#0000ff"/><circle cx="669.02" cy="608.7" r="4.25" fill="none" stroke="#0000ff" stroke-width="1"/><circle cx="669.02" cy="608.7" r="0.55" fill="#0000ff"/><circle cx="679.52" cy="600.9" r="4.25" fill="none" stroke="#0000ff" stroke-width="1"/><circle cx="679.52" cy="600.9" r="0.55" fill="#0000ff"/><circle cx="690.03" cy="595.4" r="4.25" fill="none" stroke="#0000ff" stroke-width="1"/><circle cx="690.03" cy="595.4" r="0.55" fill="#0000ff"/><circle cx="700.53" cy="591.5" r="4.25" fill="none" stroke="#0000ff" stroke-width="1"/><circle cx="700.53" cy="591.5" r="0.55" fill="#0000ff"/><circle cx="711.04" cy="588.4" r="4.25" fill="none" stroke="#0000ff" stroke-width="1"/><circle cx="711.04" cy="588.4" r="0.55" fill="#0000ff"/><circle cx="721.54" cy="585.2" r="4.25" fill="none" stroke="#0000ff" stroke-width="1"/><circle cx="721.54" cy="585.2" r="0.55" fill="#0000ff"/><circle cx="732.04" cy="582.9" r="4.25" fill="none" stroke="#0000ff" stroke-width="1"/><circle cx="732.04" cy="582.9" r="0.55" fill="#0000ff"/><circle cx="742.55" cy="581" r="4.25" fill="none" stroke="#0000ff" stroke-width="1"/><circle cx="742.55" cy="581" r="0.55" fill="#0000ff"/><circle cx="753.05" cy="579.8" r="4.25" fill="none" stroke="#0000ff" stroke-width="1"/><circle cx="753.05" cy="579.8" r="0.55" fill="#0000ff"/>
<polyline points="91.3,626.2 101.8,626.2 112.31,626.21 122.81,626.21 133.32,626.21 143.82,626.22 154.32,626.22 164.83,626.23 175.33,626.23 185.84,626.23 196.34,626.24 206.84,626.24 217.35,626.24 227.85,626.25 238.36,626.25 248.86,626.26 259.36,626.26 269.87,626.26 280.37,626.27 290.88,626.27 301.38,626.27 311.88,626.28 322.39,626.28 332.89,626.29 343.4,626.29 353.9,626.29 364.4,626.3 374.91,626.3 385.41,626.7 395.92,627.5 406.42,628.2 416.92,629.6 427.43,631.4 437.93,632.8 448.44,634.7 458.94,635.9 469.44,636.4 479.95,635.9 490.45,634.7 500.96,633.2 511.46,632.8 521.96,634 532.47,637.2 542.97,642.5 553.48,648.1 563.98,652.5 574.48,654.2 584.99,652.8 595.49,650.2 606,645.8 616.5,639 627,630.4 637.51,621.4 648.01,612.5 658.52,604.3 669.02,597.8 679.52,593.5 690.03,590.4 700.53,587.9 711.04,585.7 721.54,583.7 732.04,581.8 742.55,580.2 753.05,579" fill="none" stroke="#ff00ff" stroke-width="1" stroke-dasharray="4.02 6.03"/>
<circle cx="91.3" cy="626.2" r="4.55" fill="#ff00ff"/><circle cx="101.8" cy="626.2" r="4.55" fill="#ff00ff"/><circle cx="112.31" cy="626.21" r="4.55" fill="#ff00ff"/><circle cx="122.81" cy="626.21" r="4.55" fill="#ff00ff"/><circle cx="133.32" cy="626.21" r="4.55" fill="#ff00ff"/><circle cx="143.82" cy="626.22" r="4.55" fill="#ff00ff"/><circle cx="154.32" cy="626.22" r="4.55" fill="#ff00ff"/><circle cx="164.83" cy="626.23" r="4.55" fill="#ff00ff"/><circle cx="175.33" cy="626.23" r="4.55" fill="#ff00ff"/><circle cx="185.84" cy="626.23" r="4.55" fill="#ff00ff"/><circle cx="196.34" cy="626.24" r="4.55" fill="#ff00ff"/><circle cx="206.84" cy="626.24" r="4.55" fill="#ff00ff"/><circle cx="217.35" cy="626.24" r="4.55" fill="#ff00ff"/><circle cx="227.85" cy="626.25" r="4.55" fill="#ff00ff"/><circle cx="238.36" cy="626.25" r="4.55" fill="#ff00ff"/><circle cx="248.86" cy="626.26" r="4.55" fill="#ff00ff"/><circle cx="259.36" cy="626.26" r="4.55" fill="#ff00ff"/><circle cx="269.87" cy="626.26" r="4.55" fill="#ff00ff"/><circle cx="280.37" cy="626.27" r="4.55" fill="#ff00ff"/><circle cx="290.88" cy="626.27" r="4.55" fill="#ff00ff"/><circle cx="301.38" cy="626.27" r="4.55" fill="#ff00ff"/><circle cx="311.88" cy="626.28" r="4.55" fill="#ff00ff"/><circle cx="322.39" cy="626.28" r="4.55" fill="#ff00ff"/><circle cx="332.89" cy="626.29" r="4.55" fill="#ff00ff"/><circle cx="343.4" cy="626.29" r="4.55" fill="#ff00ff"/><circle cx="353.9" cy="626.29" r="4.55" fill="#ff00ff"/><circle cx="364.4" cy="626.3" r="4.55" fill="#ff00ff"/><circle cx="374.91" cy="626.3" r="4.55" fill="#ff00ff"/><circle cx="385.41" cy="626.7" r="4.55" fill="#ff00ff"/><circle cx="395.92" cy="627.5" r="4.55" fill="#ff00ff"/><circle cx="406.42" cy="628.2" r="4.55" fill="#ff00ff"/><circle cx="416.92" cy="629.6" r="4.55" fill="#ff00ff"/><circle cx="427.43" cy="631.4" r="4.55" fill="#ff00ff"/><circle cx="437.93" cy="632.8" r="4.55" fill="#ff00ff"/><circle cx="448.44" cy="634.7" r="4.55" fill="#ff00ff"/><circle cx="458.94" cy="635.9" r="4.55" fill="#ff00ff"/><circle cx="469.44" cy="636.4" r="4.55" fill="#ff00ff"/><circle cx="479.95" cy="635.9" r="4.55" fill="#ff00ff"/><circle cx="490.45" cy="634.7" r="4.55" fill="#ff00ff"/><circle cx="500.96" cy="633.2" r="4.55" fill="#ff00ff"/><circle cx="511.46" cy="632.8" r="4.55" fill="#ff00ff"/><circle cx="521.96" cy="634" r="4.55" fill="#ff00ff"/><circle cx="532.47" cy="637.2" r="4.55" fill="#ff00ff"/><circle cx="542.97" cy="642.5" r="4.55" fill="#ff00ff"/><circle cx="553.48" cy="648.1" r="4.55" fill="#ff00ff"/><circle cx="563.98" cy="652.5" r="4.55" fill="#ff00ff"/><circle cx="574.48" cy="654.2" r="4.55" fill="#ff00ff"/><circle cx="584.99" cy="652.8" r="4.55" fill="#ff00ff"/><circle cx="595.49" cy="650.2" r="4.55" fill="#ff00ff"/><circle cx="606" cy="645.8" r="4.55" fill="#ff00ff"/><circle cx="616.5" cy="639" r="4.55" fill="#ff00ff"/><circle cx="627" cy="630.4" r="4.55" fill="#ff00ff"/><circle cx="637.51" cy="621.4" r="4.55" fill="#ff00ff"/><circle cx="648.01" cy="612.5" r="4.55" fill="#ff00ff"/><circle cx="658.52" cy="604.3" r="4.55" fill="#ff00ff"/><circle cx="669.02" cy="597.8" r="4.55" fill="#ff00ff"/><circle cx="679.52" cy="593.5" r="4.55" fill="#ff00ff"/><circle cx="690.03" cy="590.4" r="4.55" fill="#ff00ff"/><circle cx="700.53" cy="587.9" r="4.55" fill="#ff00ff"/><circle cx="711.04" cy="585.7" r="4.55" fill="#ff00ff"/><circle cx="721.54" cy="583.7" r="4.55" fill="#ff00ff"/><circle cx="732.04" cy="581.8" r="4.55" fill="#ff00ff"/><circle cx="742.55" cy="580.2" r="4.55" fill="#ff00ff"/><circle cx="753.05" cy="579" r="4.55" fill="#ff00ff"/>
<polyline points="91.3,582.78 101.8,582.78 112.31,582.79 122.81,582.79 133.32,582.79 143.82,582.79 154.32,582.8 164.83,582.8 175.33,582.8 185.84,582.81 196.34,582.81 206.84,582.81 217.35,582.81 227.85,582.82 238.36,582.82 248.86,582.82 259.36,582.83 269.87,582.83 280.37,582.83 290.88,582.83 301.38,582.84 311.88,582.84 322.39,582.84 332.89,582.85 343.4,582.85 353.9,582.85 364.4,582.85 374.91,582.86 385.41,582.86 395.92,582.86 406.42,582.87 416.92,582.87 427.43,582.87 437.93,582.87 448.44,582.88 458.94,582.88 469.44,583.18 479.95,583.48 490.45,584.18 500.96,585.18 511.46,587.98 521.96,592.68 532.47,598.48 542.97,605.68 553.48,612.98 563.98,618.48 574.48,623.08 584.99,626.38 595.49,626.68 606,623.78 616.5,618.48 627,612.18 637.51,606.48 648.01,600.58 658.52,595.28 669.02,590.98 679.52,588.68 690.03,587.08 700.53,585.88 711.04,584.58 721.54,583.18 732.04,581.88 742.55,580.78 753.05,579.88" fill="none" stroke="#000000" stroke-width="1" stroke-dasharray="8.04 8.04 8.04 24.12"/>
<polygon points="91.3,577.8 86.85,585 95.75,585" fill="none" stroke="#000000" stroke-width="1" stroke-linejoin="miter"/><circle cx="91.3" cy="582.78" r="0.5" fill="#000000"/><polygon points="101.8,577.8 97.35,585.01 106.25,585.01" fill="none" stroke="#000000" stroke-width="1" stroke-linejoin="miter"/><circle cx="101.8" cy="582.78" r="0.5" fill="#000000"/><polygon points="112.31,577.8 107.86,585.01 116.76,585.01" fill="none" stroke="#000000" stroke-width="1" stroke-linejoin="miter"/><circle cx="112.31" cy="582.79" r="0.5" fill="#000000"/><polygon points="122.81,577.8 118.36,585.01 127.26,585.01" fill="none" stroke="#000000" stroke-width="1" stroke-linejoin="miter"/><circle cx="122.81" cy="582.79" r="0.5" fill="#000000"/><polygon points="133.32,577.81 128.87,585.02 137.77,585.02" fill="none" stroke="#000000" stroke-width="1" stroke-linejoin="miter"/><circle cx="133.32" cy="582.79" r="0.5" fill="#000000"/><polygon points="143.82,577.81 139.37,585.02 148.27,585.02" fill="none" stroke="#000000" stroke-width="1" stroke-linejoin="miter"/><circle cx="143.82" cy="582.79" r="0.5" fill="#000000"/><polygon points="154.32,577.81 149.87,585.02 158.77,585.02" fill="none" stroke="#000000" stroke-width="1" stroke-linejoin="miter"/><circle cx="154.32" cy="582.8" r="0.5" fill="#000000"/><polygon points="164.83,577.82 160.38,585.02 169.28,585.02" fill="none" stroke="#000000" stroke-width="1" stroke-linejoin="miter"/><circle cx="164.83" cy="582.8" r="0.5" fill="#000000"/><polygon points="175.33,577.82 170.88,585.03 179.78,585.03" fill="none" stroke="#000000" stroke-width="1" stroke-linejoin="miter"/><circle cx="175.33" cy="582.8" r="0.5" fill="#000000"/><polygon points="185.84,577.82 181.39,585.03 190.29,585.03" fill="none" stroke="#000000" stroke-width="1" stroke-linejoin="miter"/><circle cx="185.84" cy="582.81" r="0.5" fill="#000000"/><polygon points="196.34,577.82 191.89,585.03 200.79,585.03" fill="none" stroke="#000000" stroke-width="1" stroke-linejoin="miter"/><circle cx="196.34" cy="582.81" r="0.5" fill="#000000"/><polygon points="206.84,577.83 202.39,585.04 211.29,585.04" fill="none" stroke="#000000" stroke-width="1" stroke-linejoin="miter"/><circle cx="206.84" cy="582.81" r="0.5" fill="#000000"/><polygon points="217.35,577.83 212.9,585.04 221.8,585.04" fill="none" stroke="#000000" stroke-width="1" stroke-linejoin="miter"/><circle cx="217.35" cy="582.81" r="0.5" fill="#000000"/><polygon points="227.85,577.83 223.4,585.04 232.3,585.04" fill="none" stroke="#000000" stroke-width="1" stroke-linejoin="miter"/><circle cx="227.85" cy="582.82" r="0.5" fill="#000000"/><polygon points="238.36,577.84 233.91,585.04 242.81,585.04" fill="none" stroke="#000000" stroke-width="1" stroke-linejoin="miter"/><circle cx="238.36" cy="582.82" r="0.5" fill="#000000"/><polygon points="248.86,577.84 244.41,585.05 253.31,585.05" fill="none" stroke="#000000" stroke-width="1" stroke-linejoin="miter"/><circle cx="248.86" cy="582.82" r="0.5" fill="#000000"/><polygon points="259.36,577.84 254.91,585.05 263.81,585.05" fill="none" stroke="#000000" stroke-width="1" stroke-linejoin="miter"/><circle cx="259.36" cy="582.83" r="0.5" fill="#000000"/><polygon points="269.87,577.84 265.42,585.05 274.32,585.05" fill="none" stroke="#000000" stroke-width="1" stroke-linejoin="miter"/><circle cx="269.87" cy="582.83" r="0.5" fill="#000000"/><polygon points="280.37,577.85 275.92,585.06 284.82,585.06" fill="none" stroke="#000000" stroke-width="1" stroke-linejoin="miter"/><circle cx="280.37" cy="582.83" r="0.5" fill="#000000"/><polygon points="290.88,577.85 286.43,585.06 295.33,585.06" fill="none" stroke="#000000" stroke-width="1" stroke-linejoin="miter"/><circle cx="290.88" cy="582.83" r="0.5" fill="#000000"/><polygon points="301.38,577.85 296.93,585.06 305.83,585.06" fill="none" stroke="#000000" stroke-width="1" stroke-linejoin="miter"/><circle cx="301.38" cy="582.84" r="0.5" fill="#000000"/><polygon points="311.88,577.86 307.43,585.06 316.33,585.06" fill="none" stroke="#000000" stroke-width="1" stroke-linejoin="miter"/><circle cx="311.88" cy="582.84" r="0.5" fill="#000000"/><polygon points="322.39,577.86 317.94,585.07 326.84,585.07" fill="none" stroke="#000000" stroke-width="1" stroke-linejoin="miter"/><circle cx="322.39" cy="582.84" r="0.5" fill="#000000"/><polygon points="332.89,577.86 328.44,585.07 337.34,585.07" fill="none" stroke="#000000" stroke-width="1" stroke-linejoin="miter"/><circle cx="332.89" cy="582.85" r="0.5" fill="#000000"/><polygon points="343.4,577.86 338.95,585.07 347.85,585.07" fill="none" stroke="#000000" stroke-width="1" stroke-linejoin="miter"/><circle cx="343.4" cy="582.85" r="0.5" fill="#000000"/><polygon points="353.9,577.87 349.45,585.08 358.35,585.08" fill="none" stroke="#000000" stroke-width="1" stroke-linejoin="miter"/><circle cx="353.9" cy="582.85" r="0.5" fill="#000000"/><polygon points="364.4,577.87 359.95,585.08 368.85,585.08" fill="none" stroke="#000000" stroke-width="1" stroke-linejoin="miter"/><circle cx="364.4" cy="582.85" r="0.5" fill="#000000"/><polygon points="374.91,577.87 370.46,585.08 379.36,585.08" fill="none" stroke="#000000" stroke-width="1" stroke-linejoin="miter"/><circle cx="374.91" cy="582.86" r="0.5" fill="#000000"/><polygon points="385.41,577.88 380.96,585.08 389.86,585.08" fill="none" stroke="#000000" stroke-width="1" stroke-linejoin="miter"/><circle cx="385.41" cy="582.86" r="0.5" fill="#000000"/><polygon points="395.92,577.88 391.47,585.09 400.37,585.09" fill="none" stroke="#000000" stroke-width="1" stroke-linejoin="miter"/><circle cx="395.92" cy="582.86" r="0.5" fill="#000000"/><polygon points="406.42,577.88 401.97,585.09 410.87,585.09" fill="none" stroke="#000000" stroke-width="1" stroke-linejoin="miter"/><circle cx="406.42" cy="582.87" r="0.5" fill="#000000"/><polygon points="416.92,577.88 412.47,585.09 421.37,585.09" fill="none" stroke="#000000" stroke-width="1" stroke-linejoin="miter"/><circle cx="416.92" cy="582.87" r="0.5" fill="#000000"/><polygon points="427.43,577.89 422.98,585.1 431.88,585.1" fill="none" stroke="#000000" stroke-width="1" stroke-linejoin="miter"/><circle cx="427.43" cy="582.87" r="0.5" fill="#000000"/><polygon points="437.93,577.89 433.48,585.1 442.38,585.1" fill="none" stroke="#000000" stroke-width="1" stroke-linejoin="miter"/><circle cx="437.93" cy="582.87" r="0.5" fill="#000000"/><polygon points="448.44,577.89 443.99,585.1 452.89,585.1" fill="none" stroke="#000000" stroke-width="1" stroke-linejoin="miter"/><circle cx="448.44" cy="582.88" r="0.5" fill="#000000"/><polygon points="458.94,577.9 454.49,585.1 463.39,585.1" fill="none" stroke="#000000" stroke-width="1" stroke-linejoin="miter"/><circle cx="458.94" cy="582.88" r="0.5" fill="#000000"/><polygon points="469.44,578.2 464.99,585.4 473.89,585.4" fill="none" stroke="#000000" stroke-width="1" stroke-linejoin="miter"/><circle cx="469.44" cy="583.18" r="0.5" fill="#000000"/><polygon points="479.95,578.5 475.5,585.7 484.4,585.7" fill="none" stroke="#000000" stroke-width="1" stroke-linejoin="miter"/><circle cx="479.95" cy="583.48" r="0.5" fill="#000000"/><polygon points="490.45,579.2 486,586.4 494.9,586.4" fill="none" stroke="#000000" stroke-width="1" stroke-linejoin="miter"/><circle cx="490.45" cy="584.18" r="0.5" fill="#000000"/><polygon points="500.96,580.2 496.51,587.4 505.41,587.4" fill="none" stroke="#000000" stroke-width="1" stroke-linejoin="miter"/><circle cx="500.96" cy="585.18" r="0.5" fill="#000000"/><polygon points="511.46,583 507.01,590.2 515.91,590.2" fill="none" stroke="#000000" stroke-width="1" stroke-linejoin="miter"/><circle cx="511.46" cy="587.98" r="0.5" fill="#000000"/><polygon points="521.96,587.7 517.51,594.9 526.41,594.9" fill="none" stroke="#000000" stroke-width="1" stroke-linejoin="miter"/><circle cx="521.96" cy="592.68" r="0.5" fill="#000000"/><polygon points="532.47,593.5 528.02,600.7 536.92,600.7" fill="none" stroke="#000000" stroke-width="1" stroke-linejoin="miter"/><circle cx="532.47" cy="598.48" r="0.5" fill="#000000"/><polygon points="542.97,600.7 538.52,607.9 547.42,607.9" fill="none" stroke="#000000" stroke-width="1" stroke-linejoin="miter"/><circle cx="542.97" cy="605.68" r="0.5" fill="#000000"/><polygon points="553.48,608 549.03,615.2 557.93,615.2" fill="none" stroke="#000000" stroke-width="1" stroke-linejoin="miter"/><circle cx="553.48" cy="612.98" r="0.5" fill="#000000"/><polygon points="563.98,613.5 559.53,620.7 568.43,620.7" fill="none" stroke="#000000" stroke-width="1" stroke-linejoin="miter"/><circle cx="563.98" cy="618.48" r="0.5" fill="#000000"/><polygon points="574.48,618.1 570.03,625.3 578.93,625.3" fill="none" stroke="#000000" stroke-width="1" stroke-linejoin="miter"/><circle cx="574.48" cy="623.08" r="0.5" fill="#000000"/><polygon points="584.99,621.4 580.54,628.6 589.44,628.6" fill="none" stroke="#000000" stroke-width="1" stroke-linejoin="miter"/><circle cx="584.99" cy="626.38" r="0.5" fill="#000000"/><polygon points="595.49,621.7 591.04,628.9 599.94,628.9" fill="none" stroke="#000000" stroke-width="1" stroke-linejoin="miter"/><circle cx="595.49" cy="626.68" r="0.5" fill="#000000"/><polygon points="606,618.8 601.55,626 610.45,626" fill="none" stroke="#000000" stroke-width="1" stroke-linejoin="miter"/><circle cx="606" cy="623.78" r="0.5" fill="#000000"/><polygon points="616.5,613.5 612.05,620.7 620.95,620.7" fill="none" stroke="#000000" stroke-width="1" stroke-linejoin="miter"/><circle cx="616.5" cy="618.48" r="0.5" fill="#000000"/><polygon points="627,607.2 622.55,614.4 631.45,614.4" fill="none" stroke="#000000" stroke-width="1" stroke-linejoin="miter"/><circle cx="627" cy="612.18" r="0.5" fill="#000000"/><polygon points="637.51,601.5 633.06,608.7 641.96,608.7" fill="none" stroke="#000000" stroke-width="1" stroke-linejoin="miter"/><circle cx="637.51" cy="606.48" r="0.5" fill="#000000"/><polygon points="648.01,595.6 643.56,602.8 652.46,602.8" fill="none" stroke="#000000" stroke-width="1" stroke-linejoin="miter"/><circle cx="648.01" cy="600.58" r="0.5" fill="#000000"/><polygon points="658.52,590.3 654.07,597.5 662.97,597.5" fill="none" stroke="#000000" stroke-width="1" stroke-linejoin="miter"/><circle cx="658.52" cy="595.28" r="0.5" fill="#000000"/><polygon points="669.02,586 664.57,593.2 673.47,593.2" fill="none" stroke="#000000" stroke-width="1" stroke-linejoin="miter"/><circle cx="669.02" cy="590.98" r="0.5" fill="#000000"/><polygon points="679.52,583.7 675.07,590.9 683.97,590.9" fill="none" stroke="#000000" stroke-width="1" stroke-linejoin="miter"/><circle cx="679.52" cy="588.68" r="0.5" fill="#000000"/><polygon points="690.03,582.1 685.58,589.3 694.48,589.3" fill="none" stroke="#000000" stroke-width="1" stroke-linejoin="miter"/><circle cx="690.03" cy="587.08" r="0.5" fill="#000000"/><polygon points="700.53,580.9 696.08,588.1 704.98,588.1" fill="none" stroke="#000000" stroke-width="1" stroke-linejoin="miter"/><circle cx="700.53" cy="585.88" r="0.5" fill="#000000"/><polygon points="711.04,579.6 706.59,586.8 715.49,586.8" fill="none" stroke="#000000" stroke-width="1" stroke-linejoin="miter"/><circle cx="711.04" cy="584.58" r="0.5" fill="#000000"/><polygon points="721.54,578.2 717.09,585.4 725.99,585.4" fill="none" stroke="#000000" stroke-width="1" stroke-linejoin="miter"/><circle cx="721.54" cy="583.18" r="0.5" fill="#000000"/><polygon points="732.04,576.9 727.59,584.1 736.49,584.1" fill="none" stroke="#000000" stroke-width="1" stroke-linejoin="miter"/><circle cx="732.04" cy="581.88" r="0.5" fill="#000000"/><polygon points="742.55,575.8 738.1,583 747,583" fill="none" stroke="#000000" stroke-width="1" stroke-linejoin="miter"/><circle cx="742.55" cy="580.78" r="0.5" fill="#000000"/><polygon points="753.05,574.9 748.6,582.1 757.5,582.1" fill="none" stroke="#000000" stroke-width="1" stroke-linejoin="miter"/><circle cx="753.05" cy="579.88" r="0.5" fill="#000000"/>
<polyline points="91.3,577.78 101.8,577.78 112.31,577.78 122.81,577.78 133.32,577.78 143.82,577.78 154.32,577.78 164.83,577.78 175.33,577.78 185.84,577.78 196.34,577.78 206.84,577.78 217.35,577.78 227.85,577.78 238.36,577.78 248.86,577.78 259.36,577.78 269.87,577.78 280.37,577.78 290.88,577.78 301.38,577.78 311.88,577.78 322.39,577.78 332.89,577.78 343.4,577.78 353.9,577.78 364.4,577.78 374.91,577.78 385.41,577.78 395.92,577.78 406.42,577.78 416.92,577.78 427.43,577.78 437.93,577.78 448.44,577.78 458.94,577.78 469.44,577.78 479.95,577.78 490.45,577.98 500.96,578.68 511.46,579.68 521.96,581.18 532.47,583.98 542.97,588.18 553.48,591.28 563.98,594.88 574.48,597.78 584.99,599.68 595.49,599.68 606,598.18 616.5,595.88 627,592.98 637.51,590.08 648.01,587.88 658.52,585.08 669.02,583.48 679.52,582.38 690.03,581.88 700.53,581.18 711.04,580.68 721.54,579.88 732.04,579.28 742.55,578.78 753.05,578.48" fill="none" stroke="#ff4d00" stroke-width="1" stroke-dasharray="4.02 8.04 24.12 8.04 4.02 8.04"/>
<polygon points="91.3,572.8 86.85,580 95.75,580" fill="#ff4d00"/><polygon points="101.8,572.8 97.35,580 106.25,580" fill="#ff4d00"/><polygon points="112.31,572.8 107.86,580 116.76,580" fill="#ff4d00"/><polygon points="122.81,572.8 118.36,580 127.26,580" fill="#ff4d00"/><polygon points="133.32,572.8 128.87,580 137.77,580" fill="#ff4d00"/><polygon points="143.82,572.8 139.37,580 148.27,580" fill="#ff4d00"/><polygon points="154.32,572.8 149.87,580 158.77,580" fill="#ff4d00"/><polygon points="164.83,572.8 160.38,580 169.28,580" fill="#ff4d00"/><polygon points="175.33,572.8 170.88,580 179.78,580" fill="#ff4d00"/><polygon points="185.84,572.8 181.39,580 190.29,580" fill="#ff4d00"/><polygon points="196.34,572.8 191.89,580 200.79,580" fill="#ff4d00"/><polygon points="206.84,572.8 202.39,580 211.29,580" fill="#ff4d00"/><polygon points="217.35,572.8 212.9,580 221.8,580" fill="#ff4d00"/><polygon points="227.85,572.8 223.4,580 232.3,580" fill="#ff4d00"/><polygon points="238.36,572.8 233.91,580 242.81,580" fill="#ff4d00"/><polygon points="248.86,572.8 244.41,580 253.31,580" fill="#ff4d00"/><polygon points="259.36,572.8 254.91,580 263.81,580" fill="#ff4d00"/><polygon points="269.87,572.8 265.42,580 274.32,580" fill="#ff4d00"/><polygon points="280.37,572.8 275.92,580 284.82,580" fill="#ff4d00"/><polygon points="290.88,572.8 286.43,580 295.33,580" fill="#ff4d00"/><polygon points="301.38,572.8 296.93,580 305.83,580" fill="#ff4d00"/><polygon points="311.88,572.8 307.43,580 316.33,580" fill="#ff4d00"/><polygon points="322.39,572.8 317.94,580 326.84,580" fill="#ff4d00"/><polygon points="332.89,572.8 328.44,580 337.34,580" fill="#ff4d00"/><polygon points="343.4,572.8 338.95,580 347.85,580" fill="#ff4d00"/><polygon points="353.9,572.8 349.45,580 358.35,580" fill="#ff4d00"/><polygon points="364.4,572.8 359.95,580 368.85,580" fill="#ff4d00"/><polygon points="374.91,572.8 370.46,580 379.36,580" fill="#ff4d00"/><polygon points="385.41,572.8 380.96,580 389.86,580" fill="#ff4d00"/><polygon points="395.92,572.8 391.47,580 400.37,580" fill="#ff4d00"/><polygon points="406.42,572.8 401.97,580 410.87,580" fill="#ff4d00"/><polygon points="416.92,572.8 412.47,580 421.37,580" fill="#ff4d00"/><polygon points="427.43,572.8 422.98,580 431.88,580" fill="#ff4d00"/><polygon points="437.93,572.8 433.48,580 442.38,580" fill="#ff4d00"/><polygon points="448.44,572.8 443.99,580 452.89,580" fill="#ff4d00"/><polygon points="458.94,572.8 454.49,580 463.39,580" fill="#ff4d00"/><polygon points="469.44,572.8 464.99,580 473.89,580" fill="#ff4d00"/><polygon points="479.95,572.8 475.5,580 484.4,580" fill="#ff4d00"/><polygon points="490.45,573 486,580.2 494.9,580.2" fill="#ff4d00"/><polygon points="500.96,573.7 496.51,580.9 505.41,580.9" fill="#ff4d00"/><polygon points="511.46,574.7 507.01,581.9 515.91,581.9" fill="#ff4d00"/><polygon points="521.96,576.2 517.51,583.4 526.41,583.4" fill="#ff4d00"/><polygon points="532.47,579 528.02,586.2 536.92,586.2" fill="#ff4d00"/><polygon points="542.97,583.2 538.52,590.4 547.42,590.4" fill="#ff4d00"/><polygon points="553.48,586.3 549.03,593.5 557.93,593.5" fill="#ff4d00"/><polygon points="563.98,589.9 559.53,597.1 568.43,597.1" fill="#ff4d00"/><polygon points="574.48,592.8 570.03,600 578.93,600" fill="#ff4d00"/><polygon points="584.99,594.7 580.54,601.9 589.44,601.9" fill="#ff4d00"/><polygon points="595.49,594.7 591.04,601.9 599.94,601.9" fill="#ff4d00"/><polygon points="606,593.2 601.55,600.4 610.45,600.4" fill="#ff4d00"/><polygon points="616.5,590.9 612.05,598.1 620.95,598.1" fill="#ff4d00"/><polygon points="627,588 622.55,595.2 631.45,595.2" fill="#ff4d00"/><polygon points="637.51,585.1 633.06,592.3 641.96,592.3" fill="#ff4d00"/><polygon points="648.01,582.9 643.56,590.1 652.46,590.1" fill="#ff4d00"/><polygon points="658.52,580.1 654.07,587.3 662.97,587.3" fill="#ff4d00"/><polygon points="669.02,578.5 664.57,585.7 673.47,585.7" fill="#ff4d00"/><polygon points="679.52,577.4 675.07,584.6 683.97,584.6" fill="#ff4d00"/><polygon points="690.03,576.9 685.58,584.1 694.48,584.1" fill="#ff4d00"/><polygon points="700.53,576.2 696.08,583.4 704.98,583.4" fill="#ff4d00"/><polygon points="711.04,575.7 706.59,582.9 715.49,582.9" fill="#ff4d00"/><polygon points="721.54,574.9 717.09,582.1 725.99,582.1" fill="#ff4d00"/><polygon points="732.04,574.3 727.59,581.5 736.49,581.5" fill="#ff4d00"/><polygon points="742.55,573.8 738.1,581 747,581" fill="#ff4d00"/><polygon points="753.05,573.5 748.6,580.7 757.5,580.7" fill="#ff4d00"/>
</g>
<rect x="108.1" y="659.8" width="208" height="165.9" fill="#fff" stroke="#000" stroke-width="2"/>
<g transform="translate(208.2 680.2)" fill="#000"><text x="-83.03" y="0" font-family="Liberation Sans" font-size="28" transform="scale(1 1.04)">U</text><text x="-62.81" y="8.4" font-family="Liberation Sans" font-size="22.4">f</text><rect x="-55.19" y="-8.7" width="13.6" height="1.9"/><rect x="-55.19" y="-4.45" width="13.6" height="1.9"/><text x="-40.24" y="0" font-family="Liberation Sans" font-size="28"> </text><text x="-32.46" y="0" font-family="Liberation Sans" font-size="28" transform="scale(1 1.04)">0</text><text x="-15.98" y="0" font-family="Liberation Serif" font-size="28" transform="scale(1.07 1.04)">Γ</text></g>
<line x1="224.2" y1="673.6" x2="299.3" y2="673.6" stroke="#ff0000" stroke-width="1"/>
<rect x="257.25" y="669.15" width="8.9" height="8.9" fill="none" stroke="#ff0000" stroke-width="1"/>
<g transform="translate(208.2 707.9)" fill="#000"><text x="-83.03" y="0" font-family="Liberation Sans" font-size="28" transform="scale(1 1.04)">U</text><text x="-62.81" y="8.4" font-family="Liberation Sans" font-size="22.4">f</text><rect x="-55.19" y="-8.7" width="13.6" height="1.9"/><rect x="-55.19" y="-4.45" width="13.6" height="1.9"/><text x="-40.24" y="0" font-family="Liberation Sans" font-size="28"> </text><text x="-32.46" y="0" font-family="Liberation Sans" font-size="28" transform="scale(1 1.04)">2</text><text x="-15.98" y="0" font-family="Liberation Serif" font-size="28" transform="scale(1.07 1.04)">Γ</text></g>
<line x1="224.2" y1="701.3" x2="299.3" y2="701.3" stroke="#00ff00" stroke-width="1" stroke-dasharray="16.08 8.04"/>
<rect x="257.25" y="696.85" width="8.9" height="8.9" fill="#00ff00"/>
<g transform="translate(208.2 735.6)" fill="#000"><text x="-83.03" y="0" font-family="Liberation Sans" font-size="28" transform="scale(1 1.04)">U</text><text x="-62.81" y="8.4" font-family="Liberation Sans" font-size="22.4">f</text><rect x="-55.19" y="-8.7" width="13.6" height="1.9"/><rect x="-55.19" y="-4.45" width="13.6" height="1.9"/><text x="-40.24" y="0" font-family="Liberation Sans" font-size="28"> </text><text x="-32.46" y="0" font-family="Liberation Sans" font-size="28" transform="scale(1 1.04)">4</text><text x="-15.98" y="0" font-family="Liberation Serif" font-size="28" transform="scale(1.07 1.04)">Γ</text></g>
<line x1="224.2" y1="729" x2="299.3" y2="729" stroke="#0000ff" stroke-width="1" stroke-dasharray="8.04 12.06"/>
<circle cx="261.7" cy="729" r="4.25" fill="none" stroke="#0000ff" stroke-width="1"/><circle cx="261.7" cy="729" r="0.55" fill="#0000ff"/>
<g transform="translate(208.2 763.3)" fill="#000"><text x="-83.03" y="0" font-family="Liberation Sans" font-size="28" transform="scale(1 1.04)">U</text><text x="-62.81" y="8.4" font-family="Liberation Sans" font-size="22.4">f</text><rect x="-55.19" y="-8.7" width="13.6" height="1.9"/><rect x="-55.19" y="-4.45" width="13.6" height="1.9"/><text x="-40.24" y="0" font-family="Liberation Sans" font-size="28"> </text><text x="-32.46" y="0" font-family="Liberation Sans" font-size="28" transform="scale(1 1.04)">6</text><text x="-15.98" y="0" font-family="Liberation Serif" font-size="28" transform="scale(1.07 1.04)">Γ</text></g>
<line x1="224.2" y1="756.7" x2="299.3" y2="756.7" stroke="#ff00ff" stroke-width="1" stroke-dasharray="4.02 6.03"/>
<circle cx="261.7" cy="756.7" r="4.55" fill="#ff00ff"/>
<g transform="translate(208.2 791)" fill="#000"><text x="-83.03" y="0" font-family="Liberation Sans" font-size="28" transform="scale(1 1.04)">U</text><text x="-62.81" y="8.4" font-family="Liberation Sans" font-size="22.4">f</text><rect x="-55.19" y="-8.7" width="13.6" height="1.9"/><rect x="-55.19" y="-4.45" width="13.6" height="1.9"/><text x="-40.24" y="0" font-family="Liberation Sans" font-size="28"> </text><text x="-32.46" y="0" font-family="Liberation Sans" font-size="28" transform="scale(1 1.04)">8</text><text x="-15.98" y="0" font-family="Liberation Serif" font-size="28" transform="scale(1.07 1.04)">Γ</text></g>
<line x1="224.2" y1="784.4" x2="299.3" y2="784.4" stroke="#000000" stroke-width="1" stroke-dasharray="8.04 8.04 8.04 24.12"/>
<polygon points="261.7,779.42 257.25,786.62 266.15,786.62" fill="none" stroke="#000000" stroke-width="1" stroke-linejoin="miter"/><circle cx="261.7" cy="784.4" r="0.5" fill="#000000"/>
<g transform="translate(208.2 818.7)" fill="#000"><text x="-90.82" y="0" font-family="Liberation Sans" font-size="28" transform="scale(1 1.04)">U</text><text x="-70.6" y="8.4" font-family="Liberation Sans" font-size="22.4">f</text><rect x="-62.98" y="-8.7" width="13.6" height="1.9"/><rect x="-62.98" y="-4.45" width="13.6" height="1.9"/><path d="M-40.33 0L-40.33 -14.14L-45.2 -14.14L-45.2 -15.85C-42.43 -16.16 -40.47 -17.08 -39.57 -19.85L-37.98 -19.85L-37.98 0Z"/><text x="-32.46" y="0" font-family="Liberation Sans" font-size="28" transform="scale(1 1.04)">0</text><text x="-15.98" y="0" font-family="Liberation Serif" font-size="28" transform="scale(1.07 1.04)">Γ</text></g>
<line x1="224.2" y1="812.1" x2="299.3" y2="812.1" stroke="#ff4d00" stroke-width="1" stroke-dasharray="4.02 8.04 24.12 8.04 4.02 8.04"/>
<polygon points="261.7,807.12 257.25,814.32 266.15,814.32" fill="#ff4d00"/>
<path d="M91.3 33.9H766.5V958.7H91.3ZM91.3 526.9H766.5" fill="none" stroke="#000" stroke-width="2.1"/>
<g transform="translate(74.9 520.05)" fill="#000"><text x="-15.57" y="0" font-family="Liberation Sans" font-size="28" transform="scale(1 1.04)">0</text></g>
<g transform="translate(74.9 440.63)" fill="#000"><path d="M-7.87 0L-7.87 -14.14L-12.74 -14.14L-12.74 -15.85C-9.97 -16.16 -8.01 -17.08 -7.12 -19.85L-5.52 -19.85L-5.52 0Z"/></g>
<g transform="translate(74.9 361.21)" fill="#000"><text x="-15.57" y="0" font-family="Liberation Sans" font-size="28" transform="scale(1 1.04)">2</text></g>
<g transform="translate(74.9 281.79)" fill="#000"><text x="-15.57" y="0" font-family="Liberation Sans" font-size="28" transform="scale(1 1.04)">3</text></g>
<g transform="translate(74.9 202.37)" fill="#000"><text x="-15.57" y="0" font-family="Liberation Sans" font-size="28" transform="scale(1 1.04)">4</text></g>
<g transform="translate(74.9 122.95)" fill="#000"><text x="-15.57" y="0" font-family="Liberation Sans" font-size="28" transform="scale(1 1.04)">5</text></g>
<g transform="translate(74.9 43.53)" fill="#000"><text x="-15.57" y="0" font-family="Liberation Sans" font-size="28" transform="scale(1 1.04)">6</text></g>
<g transform="translate(74.9 587.2)" fill="#000"><text x="-15.57" y="0" font-family="Liberation Sans" font-size="28" transform="scale(1 1.04)">0</text></g>
<g transform="translate(74.9 714.2)" fill="#000"><text x="-24.9" y="0" font-family="Liberation Sans" font-size="28">-</text><text x="-15.57" y="0" font-family="Liberation Sans" font-size="28" transform="scale(1 1.04)">5</text></g>
<g transform="translate(74.9 841.2)" fill="#000"><text x="-40.47" y="0" font-family="Liberation Sans" font-size="28">-</text><path d="M-23.44 0L-23.44 -14.14L-28.32 -14.14L-28.32 -15.85C-25.54 -16.16 -23.58 -17.08 -22.69 -19.85L-21.09 -19.85L-21.09 0Z"/><text x="-15.57" y="0" font-family="Liberation Sans" font-size="28" transform="scale(1 1.04)">0</text></g>
<g transform="translate(74.9 968.2)" fill="#000"><text x="-40.47" y="0" font-family="Liberation Sans" font-size="28">-</text><path d="M-23.44 0L-23.44 -14.14L-28.32 -14.14L-28.32 -15.85C-25.54 -16.16 -23.58 -17.08 -22.69 -19.85L-21.09 -19.85L-21.09 0Z"/><text x="-15.57" y="0" font-family="Liberation Sans" font-size="28" transform="scale(1 1.04)">5</text></g>
<g transform="translate(91.3 998.3)" fill="#000"><path d="M-17.83 0L-17.83 -14.14L-22.7 -14.14L-22.7 -15.85C-19.93 -16.16 -17.97 -17.08 -17.07 -19.85L-15.48 -19.85L-15.48 0Z"/><text x="-9.96" y="0" font-family="Liberation Sans" font-size="28" transform="scale(1 1.04)">0</text><text x="5.61" y="-13.58" font-family="Liberation Sans" font-size="22.4">-</text><text x="13.07" y="-13.06" font-family="Liberation Sans" font-size="22.4" transform="scale(1 1.04)">4</text></g>
<g transform="translate(166.32 998.3)" fill="#000"><path d="M-17.83 0L-17.83 -14.14L-22.7 -14.14L-22.7 -15.85C-19.93 -16.16 -17.97 -17.08 -17.07 -19.85L-15.48 -19.85L-15.48 0Z"/><text x="-9.96" y="0" font-family="Liberation Sans" font-size="28" transform="scale(1 1.04)">0</text><text x="5.61" y="-13.58" font-family="Liberation Sans" font-size="22.4">-</text><text x="13.07" y="-13.06" font-family="Liberation Sans" font-size="22.4" transform="scale(1 1.04)">3</text></g>
<g transform="translate(241.34 998.3)" fill="#000"><path d="M-17.83 0L-17.83 -14.14L-22.7 -14.14L-22.7 -15.85C-19.93 -16.16 -17.97 -17.08 -17.07 -19.85L-15.48 -19.85L-15.48 0Z"/><text x="-9.96" y="0" font-family="Liberation Sans" font-size="28" transform="scale(1 1.04)">0</text><text x="5.61" y="-13.58" font-family="Liberation Sans" font-size="22.4">-</text><text x="13.07" y="-13.06" font-family="Liberation Sans" font-size="22.4" transform="scale(1 1.04)">2</text></g>
<g transform="translate(316.37 998.3)" fill="#000"><path d="M-17.83 0L-17.83 -14.14L-22.7 -14.14L-22.7 -15.85C-19.93 -16.16 -17.97 -17.08 -17.07 -19.85L-15.48 -19.85L-15.48 0Z"/><text x="-9.96" y="0" font-family="Liberation Sans" font-size="28" transform="scale(1 1.04)">0</text><text x="5.61" y="-13.58" font-family="Liberation Sans" font-size="22.4">-</text><path d="M19.23 -13.58L19.23 -24.89L15.34 -24.89L15.34 -26.26C17.55 -26.5 19.12 -27.24 19.84 -29.46L21.11 -29.46L21.11 -13.58Z"/></g>
<g transform="translate(391.39 998.3)" fill="#000"><path d="M-14.1 0L-14.1 -14.14L-18.97 -14.14L-18.97 -15.85C-16.2 -16.16 -14.24 -17.08 -13.35 -19.85L-11.75 -19.85L-11.75 0Z"/><text x="-6.23" y="0" font-family="Liberation Sans" font-size="28" transform="scale(1 1.04)">0</text><text x="9.34" y="-13.06" font-family="Liberation Sans" font-size="22.4" transform="scale(1 1.04)">0</text></g>
<g transform="translate(466.41 998.3)" fill="#000"><path d="M-14.1 0L-14.1 -14.14L-18.97 -14.14L-18.97 -15.85C-16.2 -16.16 -14.24 -17.08 -13.35 -19.85L-11.75 -19.85L-11.75 0Z"/><text x="-6.23" y="0" font-family="Liberation Sans" font-size="28" transform="scale(1 1.04)">0</text><path d="M15.5 -13.58L15.5 -24.89L11.61 -24.89L11.61 -26.26C13.82 -26.5 15.39 -27.24 16.11 -29.46L17.38 -29.46L17.38 -13.58Z"/></g>
<g transform="translate(541.43 998.3)" fill="#000"><path d="M-14.1 0L-14.1 -14.14L-18.97 -14.14L-18.97 -15.85C-16.2 -16.16 -14.24 -17.08 -13.35 -19.85L-11.75 -19.85L-11.75 0Z"/><text x="-6.23" y="0" font-family="Liberation Sans" font-size="28" transform="scale(1 1.04)">0</text><text x="9.34" y="-13.06" font-family="Liberation Sans" font-size="22.4" transform="scale(1 1.04)">2</text></g>
<g transform="translate(616.46 998.3)" fill="#000"><path d="M-14.1 0L-14.1 -14.14L-18.97 -14.14L-18.97 -15.85C-16.2 -16.16 -14.24 -17.08 -13.35 -19.85L-11.75 -19.85L-11.75 0Z"/><text x="-6.23" y="0" font-family="Liberation Sans" font-size="28" transform="scale(1 1.04)">0</text><text x="9.34" y="-13.06" font-family="Liberation Sans" font-size="22.4" transform="scale(1 1.04)">3</text></g>
<g transform="translate(691.48 998.3)" fill="#000"><path d="M-14.1 0L-14.1 -14.14L-18.97 -14.14L-18.97 -15.85C-16.2 -16.16 -14.24 -17.08 -13.35 -19.85L-11.75 -19.85L-11.75 0Z"/><text x="-6.23" y="0" font-family="Liberation Sans" font-size="28" transform="scale(1 1.04)">0</text><text x="9.34" y="-13.06" font-family="Liberation Sans" font-size="22.4" transform="scale(1 1.04)">4</text></g>
<g transform="translate(766.5 998.3)" fill="#000"><path d="M-14.1 0L-14.1 -14.14L-18.97 -14.14L-18.97 -15.85C-16.2 -16.16 -14.24 -17.08 -13.35 -19.85L-11.75 -19.85L-11.75 0Z"/><text x="-6.23" y="0" font-family="Liberation Sans" font-size="28" transform="scale(1 1.04)">0</text><text x="9.34" y="-13.06" font-family="Liberation Sans" font-size="22.4" transform="scale(1 1.04)">5</text></g>
<g transform="translate(428.9 1034)" fill="#000"><text x="-28.46" y="0" font-family="Liberation Sans" font-size="28" transform="scale(1 1.04)">T</text><text x="-11.36" y="0" font-family="Liberation Sans" font-size="28">/</text><text x="-3.58" y="0" font-family="Liberation Sans" font-size="28" transform="scale(1 1.04)">T</text><text x="13.52" y="8.08" font-family="Liberation Sans" font-size="22.4" transform="scale(1 1.04)">K</text></g>
<g transform="translate(34.5 521.5) rotate(-90)" fill="#000"><text x="-65.8" y="0" font-family="Liberation Serif" font-size="28">δ</text><text x="-52.29" y="0" font-family="Liberation Sans" font-size="28">n</text><text x="-36.72" y="8.4" font-family="Liberation Sans" font-size="22.4">d</text><text x="-24.26 -14.93" y="0" font-family="Liberation Sans" font-size="28">(t</text><path d="M-5.46 -7.5H18.94M12.14 -14.3L19.54 -7.5L12.14 -0.7" fill="none" stroke="#000" stroke-width="1.6" stroke-linejoin="miter"/><rect x="22.28" y="-8.45" width="12.8" height="1.9"/><rect x="27.73" y="-13.9" width="1.9" height="12.8"/><path d="M46.48 -7.9C49.28 -12.93 54.48 -12.36 54.48 -7.9C54.48 -3.44 49.28 -2.88 46.48 -7.9C43.68 -12.93 38.48 -12.36 38.48 -7.9C38.48 -3.44 43.68 -2.88 46.48 -7.9Z" fill="none" stroke="#000" stroke-width="1.45"/><text x="56.8" y="0" font-family="Liberation Sans" font-size="28">)</text></g>
</svg>
</body></html>
